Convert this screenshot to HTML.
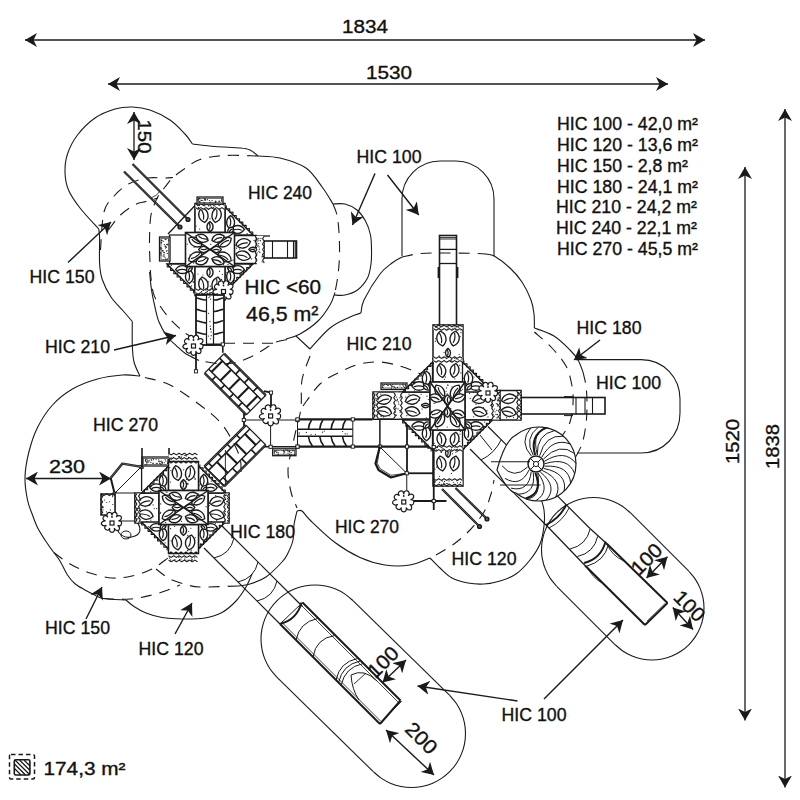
<!DOCTYPE html>
<html><head><meta charset="utf-8"><style>
html,body{margin:0;padding:0;background:#fff;width:800px;height:800px;overflow:hidden}
svg{display:block}
text{font-family:"Liberation Sans",sans-serif;fill:#111;stroke:#111;stroke-width:0.35px}
</style></head><body>
<svg width="800" height="800" viewBox="0 0 800 800">
<defs>
<marker id="ah" viewBox="0 0 12 14" refX="12" refY="7" markerWidth="12" markerHeight="14" markerUnits="userSpaceOnUse" orient="auto-start-reverse">
<path d="M0,0 L12,7 L0,14 L3.5,7 Z" fill="#1a1a1a"/>
</marker>
<marker id="ah2" viewBox="0 0 12 12" refX="12" refY="6" markerWidth="12" markerHeight="12" markerUnits="userSpaceOnUse" orient="auto-start-reverse">
<path d="M0,0 L12,6 L0,12 L3,6 Z" fill="#1a1a1a"/>
</marker>
</defs>

<g fill="none" stroke="#1a1a1a" stroke-width="1.1" stroke-linejoin="round">
<path d="M140,376 C139,373.67 135.28,367.17 134,362 C132.72,356.83 132.58,351.75 132.3,345 C132.02,338.25 132.3,325.42 132.3,321.5"/>
<path d="M132.3,321.5 C130.79,319.75 126.8,315.08 123.25,311 C119.7,306.92 114.5,302.25 111,297 C107.5,291.75 104.15,285.04 102.25,279.5 C100.35,273.96 100.04,270.75 99.6,263.75 C99.16,256.75 99.74,243.29 99.6,237.5 C99.46,231.71 98.89,230.42 98.75,229"/>
<path d="M98.75,229 C95.62,225.5 85.04,214.5 80,208 C74.96,201.5 71,195.92 68.5,190 C66,184.08 65.17,178.5 65,172.5 C64.83,166.5 65.42,160.25 67.5,154 C69.58,147.75 72.92,141 77.5,135 C82.08,129 88.75,122.33 95,118 C101.25,113.67 108.75,110.83 115,109 C121.25,107.17 126.67,106.83 132.5,107 C138.33,107.17 143.75,107.83 150,110 C156.25,112.17 164.17,116 170,120 C175.83,124 181.25,130 185,134 C188.75,138 191.25,142.33 192.5,144"/>
<path d="M192.5,144 C196.25,144.42 207.08,145.83 215,146.5 C222.92,147.17 234.17,147.42 240,148 C245.83,148.58 247,148.67 250,150 C253,151.33 256.67,155 258,156"/>
<path d="M258,156 C261.67,156.33 272,156 280,158 C288,160 298.92,163.08 306,168 C313.08,172.92 318,181.5 322.5,187.5 C327,193.5 331.25,201.25 333,204"/>
<path d="M333,204 C335,204 341,203 345,204 C349,205 353.58,207.17 357,210 C360.42,212.83 363.25,216.83 365.5,221 C367.75,225.17 369.5,230.17 370.5,235 C371.5,239.83 371.42,245.17 371.5,250 C371.58,254.83 371.67,259.33 371,264 C370.33,268.67 369.75,273.67 367.5,278 C365.25,282.33 361.25,287.17 357.5,290 C353.75,292.83 348.92,294.17 345,295 C341.08,295.83 335.83,295 334,295"/>
<path d="M335,292.5 C334.17,294.58 332.83,300.25 330,305 C327.17,309.75 323,316.17 318,321 C313,325.83 305.33,331 300,334 C294.67,337 288.33,338.17 286,339"/>
<path d="M296,336 L310,349"/>
<path d="M310,349 C313.33,345.5 323.33,333.33 330,328 C336.67,322.67 344.83,319.5 350,317 C355.17,314.5 359.17,313.67 361,313"/>
<path d="M361,313 C361.5,310.83 360.83,306.5 364,300 C367.17,293.5 375.33,280.17 380,274 C384.67,267.83 388.33,265.83 392,263 C395.67,260.17 400.33,258 402,257"/>
<path d="M402,256 L402,199 C402,178 419,161 440,161 L456,161 C477,161 494,178 494,199 L494,256"/>
<path d="M149.6,272 C149.92,275 150.68,284.5 151.5,290 C152.32,295.5 153.25,299.67 154.5,305 C155.75,310.33 156.83,316.67 159,322 C161.17,327.33 164.67,333.12 167.5,337 C170.33,340.88 173.02,342.55 176,345.3 C178.98,348.05 181.57,350.97 185.4,353.5 C189.23,356.03 196.73,359.33 199,360.5"/>
<path d="M140,376 C137.08,375.83 129.58,374.5 122.5,375 C115.42,375.5 105.83,376.67 97.5,379 C89.17,381.33 80,384.67 72.5,389 C65,393.33 58.33,398.58 52.5,405 C46.67,411.42 41.46,419.58 37.5,427.5 C33.54,435.42 30.83,444.17 28.75,452.5 C26.67,460.83 25.21,469.58 25,477.5 C24.79,485.42 26.25,493.75 27.5,500 C28.75,506.25 30.83,510.42 32.5,515 C34.17,519.58 35.42,523.33 37.5,527.5 C39.58,531.67 42.29,535.83 45,540 C47.71,544.17 52.29,550.42 53.75,552.5"/>
<path d="M53.75,552.5 C54.79,553.92 57.71,557.25 60,561 C62.29,564.75 65,571.21 67.5,575 C70,578.79 72.08,581.25 75,583.75 C77.92,586.25 81.88,588.21 85,590 C88.12,591.79 90.75,593.08 93.75,594.5 C96.75,595.92 97.62,597.58 103,598.5 C108.38,599.42 122.17,599.75 126,600"/>
<path d="M126,600 C127.33,601.08 130.67,604.33 134,606.5 C137.33,608.67 141.33,611.17 146,613 C150.67,614.83 156,616.5 162,617.5 C168,618.5 174.83,618.92 182,619 C189.17,619.08 198.33,619.08 205,618 C211.67,616.92 216.83,615.33 222,612.5 C227.17,609.67 232,605.25 236,601 C240,596.75 243.33,591.5 246,587 C248.67,582.5 251,576.17 252,574"/>
<path d="M297,511 C296.5,513.33 294.67,520.17 294,525 C293.33,529.83 294,535.33 293,540 C292,544.67 289.83,549.33 288,553 C286.17,556.67 285.67,558 282,562 C278.33,566 271.33,573.33 266,577 C260.67,580.67 254.67,582.5 250,584 C245.33,585.5 240,585.67 238,586"/>
<path d="M297,511 C297.83,511 299.83,509.5 302,511 C304.17,512.5 304.5,514.75 310,520 C315.5,525.25 326.67,536.25 335,542.5 C343.33,548.75 351.67,553.75 360,557.5 C368.33,561.25 376.67,563.75 385,565 C393.33,566.25 402.5,566.17 410,565 C417.5,563.83 426.67,559.17 430,558"/>
<path d="M430,558 C431.67,559.67 436.33,564.67 440,568 C443.67,571.33 447.33,575.5 452,578 C456.67,580.5 462.67,582 468,583 C473.33,584 478.67,584.33 484,584 C489.33,583.67 494.67,582.67 500,581 C505.33,579.33 511,577.5 516,574 C521,570.5 526,565 530,560 C534,555 537.67,549.67 540,544 C542.33,538.33 543.33,531.67 544,526 C544.67,520.33 544.67,515 544,510 C543.33,505 541.33,499.67 540,496 C538.67,492.33 536.67,489.33 536,488"/>
<path d="M486,254 C487.5,254.42 491,254.17 495,256.5 C499,258.83 505.5,263.75 510,268 C514.5,272.25 518.5,276.67 522,282 C525.5,287.33 529,294.67 531,300 C533,305.33 533.43,309.33 534,314 C534.57,318.67 534.33,325.67 534.4,328"/>
<path d="M534.4,328 C537.67,329.33 548.07,332.33 554,336 C559.93,339.67 566,346 570,350 C574,354 575.83,356.33 578,360 C580.17,363.67 582.17,370 583,372"/>
<path d="M576,359.6 L641,359.6 C664,359.6 680,378 680,399 L680,413 C680,435 664,453 641,453 L577,453"/>
<path d="M556.73,586.27 C555.65,584.96 552.14,581.2 550.26,578.39 C548.38,575.58 546.75,572.52 545.46,569.4 C544.16,566.28 543.16,562.96 542.5,559.64 C541.84,556.33 541.5,552.88 541.5,549.5 C541.5,546.12 541.84,542.67 542.5,539.36 C543.16,536.04 544.16,532.72 545.46,529.6 C546.75,526.48 548.38,523.42 550.26,520.61 C552.14,517.8 554.34,515.12 556.73,512.73 C559.12,510.34 561.8,508.14 564.61,506.26 C567.42,504.38 570.48,502.75 573.6,501.46 C576.72,500.16 580.04,499.16 583.36,498.5 C586.67,497.84 590.12,497.5 593.5,497.5 C596.88,497.5 600.33,497.84 603.64,498.5 C606.96,499.16 610.28,500.16 613.4,501.46 C616.52,502.75 619.58,504.38 622.39,506.26 C625.2,508.14 628.96,511.65 630.27,512.73"/>
<path d="M630.3,512.7 L688.8,571.2"/>
<path d="M688.77,571.23 C689.85,572.54 693.36,576.3 695.24,579.11 C697.12,581.92 698.75,584.98 700.04,588.1 C701.34,591.22 702.34,594.54 703,597.86 C703.66,601.17 704,604.62 704,608 C704,611.38 703.66,614.83 703,618.14 C702.34,621.46 701.34,624.78 700.04,627.9 C698.75,631.02 697.12,634.08 695.24,636.89 C693.36,639.7 691.16,642.38 688.77,644.77 C686.38,647.16 683.7,649.36 680.89,651.24 C678.08,653.12 675.02,654.75 671.9,656.04 C668.78,657.34 665.46,658.34 662.14,659 C658.83,659.66 655.38,660 652,660 C648.62,660 645.17,659.66 641.86,659 C638.54,658.34 635.22,657.34 632.1,656.04 C628.98,654.75 625.92,653.12 623.11,651.24 C620.3,649.36 616.54,645.85 615.23,644.77"/>
<path d="M615.2,644.8 L556.7,586.3"/>
<path d="M276.82,677.18 C275.7,675.82 272.05,671.92 270.1,669 C268.15,666.08 266.45,662.91 265.11,659.66 C263.77,656.42 262.72,652.98 262.04,649.53 C261.35,646.09 261,642.51 261,639 C261,635.49 261.35,631.91 262.04,628.47 C262.72,625.02 263.77,621.58 265.11,618.34 C266.45,615.09 268.15,611.92 270.1,609 C272.05,606.08 274.33,603.3 276.82,600.82 C279.3,598.33 282.08,596.05 285,594.1 C287.92,592.15 291.09,590.45 294.34,589.11 C297.58,587.77 301.02,586.72 304.47,586.04 C307.91,585.35 311.49,585 315,585 C318.51,585 322.09,585.35 325.53,586.04 C328.98,586.72 332.42,587.77 335.66,589.11 C338.91,590.45 342.08,592.15 345,594.1 C347.92,596.05 351.82,599.7 353.18,600.82"/>
<path d="M353.2,600.8 L449.7,695.3"/>
<path d="M449.68,695.32 C450.8,696.68 454.45,700.58 456.4,703.5 C458.35,706.42 460.05,709.59 461.39,712.84 C462.73,716.08 463.78,719.52 464.46,722.97 C465.15,726.41 465.5,729.99 465.5,733.5 C465.5,737.01 465.15,740.59 464.46,744.03 C463.78,747.48 462.73,750.92 461.39,754.16 C460.05,757.41 458.35,760.58 456.4,763.5 C454.45,766.42 452.17,769.2 449.68,771.68 C447.2,774.17 444.42,776.45 441.5,778.4 C438.58,780.35 435.41,782.05 432.16,783.39 C428.92,784.73 425.48,785.78 422.03,786.46 C418.59,787.15 415.01,787.5 411.5,787.5 C407.99,787.5 404.41,787.15 400.97,786.46 C397.52,785.78 394.08,784.73 390.84,783.39 C387.59,782.05 384.42,780.35 381.5,778.4 C378.58,776.45 374.68,772.8 373.32,771.68"/>
<path d="M373.3,771.7 L276.8,677.2"/>
</g>
<g fill="none" stroke="#1a1a1a" stroke-width="1.1" stroke-dasharray="11,8">
<path d="M333,204 C333.67,205.83 336,210.25 337,215 C338,219.75 338.58,225.83 339,232.5 C339.42,239.17 339.67,247.92 339.5,255 C339.33,262.08 338.75,268.75 338,275 C337.25,281.25 335.5,289.58 335,292.5"/>
<path d="M287,339.5 C285,340 279,340.75 275,342.5 C271,344.25 267.25,347.5 263,350 C258.75,352.5 254.25,355.38 249.5,357.5 C244.75,359.62 239.75,361.75 234.5,362.75 C229.25,363.75 223.92,363.88 218,363.5 C212.08,363.12 202.17,361 199,360.5"/>
<path d="M402,257 C405,256.42 413.67,254.17 420,253.5 C426.33,252.83 431.67,253.03 440,253 C448.33,252.97 462.33,253.13 470,253.3 C477.67,253.47 483.33,253.88 486,254"/>
<path d="M258,156 C252.5,155.92 234.67,154.92 225,155.5 C215.33,156.08 206.67,157.33 200,159.5 C193.33,161.67 189.5,165.5 185,168.5 C180.5,171.5 176.33,174.42 173,177.5 C169.67,180.58 167.58,183.67 165,187 C162.42,190.33 159.83,192.83 157.5,197.5 C155.17,202.17 152.33,207.92 151,215 C149.67,222.08 149.67,232.17 149.5,240 C149.33,247.83 149.75,255.67 150,262 C150.25,268.33 150.38,272.6 151,278 C151.62,283.4 152.15,289.61 153.75,294.4 C155.35,299.19 158.07,302.85 160.6,306.75 C163.12,310.65 165.92,314.36 168.9,317.8 C171.88,321.24 174.98,324.37 178.5,327.4 C182.02,330.43 184.75,333.57 190,336 C195.25,338.43 204.33,340.78 210,342 C215.67,343.22 221.67,343.08 224,343.3"/>
<path d="M224,343.3 L276.5,343.3"/>
<path d="M100.5,250 C101.08,243.67 101.67,221.08 104,212 C106.33,202.92 110.25,200.25 114.5,195.5 C118.75,190.75 124,186.42 129.5,183.5 C135,180.58 141.75,178.92 147.5,178 C153.25,177.08 159.75,178.08 164,178 C168.25,177.92 171.5,177.58 173,177.5"/>
<path d="M108.5,230 C110.5,227.5 116,219.25 120.5,215 C125,210.75 131.25,206.75 135.5,204.5 C139.75,202.25 142.25,202.58 146,201.5 C149.75,200.42 156,198.58 158,198"/>
<path d="M145,377.5 C149.17,378.75 160.83,380.42 170,385 C179.17,389.58 191.67,398.83 200,405 C208.33,411.17 214.67,416.17 220,422 C225.33,427.83 228.67,434 232,440 C235.33,446 238.5,452.67 240,458 C241.5,463.33 240.83,469.67 241,472"/>
<path d="M53.75,552.5 C56.46,554.42 63.96,560.58 70,564 C76.04,567.42 83,570.67 90,573 C97,575.33 105,577.5 112,578 C119,578.5 125.33,577.5 132,576 C138.67,574.5 146,572 152,569 C158,566 165.33,559.83 168,558"/>
<path d="M156,569 C158.33,570.67 164.67,576.33 170,579 C175.33,581.67 183,583.67 188,585 C193,586.33 191.67,586.83 200,587 C208.33,587.17 231.67,586.17 238,586"/>
<path d="M103,598.5 C107.5,598.58 121.83,599.58 130,599 C138.17,598.42 145.67,596.5 152,595 C158.33,593.5 163.33,591.67 168,590 C172.67,588.33 178,585.83 180,585"/>
<path d="M436,555 C439,553.17 448.33,548.17 454,544 C459.67,539.83 465,535.33 470,530 C475,524.67 480.5,518 484,512 C487.5,506 489.33,499.33 491,494 C492.67,488.67 493.5,482.33 494,480"/>
<path d="M310,356 C308.67,360 303.5,371.33 302,380 C300.5,388.67 302,399.67 301,408 C300,416.33 297.5,423.33 296,430 C294.5,436.67 293.33,441.33 292,448 C290.67,454.67 288.17,462.67 288,470 C287.83,477.33 289.5,485.67 291,492 C292.5,498.33 296,505.33 297,508"/>
<path d="M303,406 C305.83,402.33 313.83,389.67 320,384 C326.17,378.33 333.33,375.33 340,372 C346.67,368.67 353.33,365.67 360,364 C366.67,362.33 373.33,361.67 380,362 C386.67,362.33 394,364.33 400,366 C406,367.67 412,370.33 416,372 C420,373.67 422.67,375.33 424,376"/>
<path d="M583,372 C583.5,374.33 585.33,380.67 586,386 C586.67,391.33 587,397.67 587,404 C587,410.33 586.83,417.33 586,424 C585.17,430.67 584,438 582,444 C580,450 575.33,457.33 574,460"/>
<path d="M534.4,332 C537.33,334.67 546.73,342.33 552,348 C557.27,353.67 562.67,359.67 566,366 C569.33,372.33 570.83,379.67 572,386 C573.17,392.33 573.33,398 573,404 C572.67,410 571.83,416.67 570,422 C568.17,427.33 564.67,432.33 562,436 C559.33,439.67 555.33,442.67 554,444"/>
</g>
<g id="equip" stroke-linecap="butt">
<line x1="132.5" y1="164" x2="188" y2="219.5" stroke="#1a1a1a" stroke-width="2.3"/><line x1="132.5" y1="164" x2="188" y2="219.5" stroke="#777" stroke-width="0.6"/><circle cx="188" cy="219.5" r="1.9" fill="#555" stroke="#1a1a1a" stroke-width="1.4"/>
<line x1="124" y1="171.5" x2="180" y2="227" stroke="#1a1a1a" stroke-width="2.3"/><line x1="124" y1="171.5" x2="180" y2="227" stroke="#777" stroke-width="0.6"/><circle cx="180" cy="227" r="1.9" fill="#555" stroke="#1a1a1a" stroke-width="1.4"/>
<path d="M151,198 Q157,196 160,191" fill="none" stroke="#1a1a1a" stroke-width="0.8"/>
<line x1="168" y1="234" x2="195" y2="205.5" stroke="#1a1a1a" stroke-width="1.3"/>
<line x1="195" y1="205.5" x2="195" y2="234" stroke="#1a1a1a" stroke-width="1"/>
<rect x="169.5" y="235" width="16.5" height="28.5" fill="#fff" stroke="#1a1a1a" stroke-width="1.2"/>
<rect x="159.5" y="237" width="10.5" height="24" fill="#fff" stroke="#1a1a1a" stroke-width="1.3"/><circle cx="163.25" cy="241.32" r="0.6" fill="#1a1a1a"/><circle cx="166.03" cy="239.59" r="0.6" fill="#1a1a1a"/><circle cx="165.05" cy="246.05" r="0.6" fill="#1a1a1a"/><circle cx="160.99" cy="249.16" r="0.6" fill="#1a1a1a"/><circle cx="160.82" cy="247.54" r="0.6" fill="#1a1a1a"/><circle cx="161.09" cy="240" r="0.6" fill="#1a1a1a"/><circle cx="164.11" cy="256.19" r="0.6" fill="#1a1a1a"/><circle cx="161.55" cy="242.91" r="0.6" fill="#1a1a1a"/><circle cx="165.83" cy="258.85" r="0.6" fill="#1a1a1a"/><circle cx="165.41" cy="246.73" r="0.6" fill="#1a1a1a"/><circle cx="168.8" cy="239.02" r="0.6" fill="#1a1a1a"/><circle cx="167.8" cy="244.37" r="0.6" fill="#1a1a1a"/><circle cx="161.73" cy="240.59" r="0.6" fill="#1a1a1a"/><circle cx="163.12" cy="255.95" r="0.6" fill="#1a1a1a"/><circle cx="162.04" cy="250.8" r="0.6" fill="#1a1a1a"/><circle cx="165.93" cy="246.19" r="0.6" fill="#1a1a1a"/><circle cx="165.16" cy="239.38" r="0.6" fill="#1a1a1a"/><circle cx="161.01" cy="242.53" r="0.6" fill="#1a1a1a"/><circle cx="166.28" cy="247.41" r="0.6" fill="#1a1a1a"/><circle cx="163.17" cy="250.88" r="0.6" fill="#1a1a1a"/><circle cx="164.35" cy="244.59" r="0.6" fill="#1a1a1a"/><circle cx="167.25" cy="253.38" r="0.6" fill="#1a1a1a"/><circle cx="162.57" cy="250.64" r="0.6" fill="#1a1a1a"/><circle cx="164.96" cy="257.25" r="0.6" fill="#1a1a1a"/><circle cx="166.7" cy="244.33" r="0.6" fill="#1a1a1a"/><circle cx="168.83" cy="240.6" r="0.6" fill="#1a1a1a"/><circle cx="164.05" cy="254.66" r="0.6" fill="#1a1a1a"/><circle cx="161.79" cy="248.76" r="0.6" fill="#1a1a1a"/><circle cx="160.83" cy="252.7" r="0.6" fill="#1a1a1a"/><circle cx="167" cy="250.61" r="0.6" fill="#1a1a1a"/><circle cx="167.94" cy="244.9" r="0.6" fill="#1a1a1a"/><circle cx="166.41" cy="251.08" r="0.6" fill="#1a1a1a"/><circle cx="165.43" cy="248.04" r="0.6" fill="#1a1a1a"/><circle cx="167.64" cy="258.78" r="0.6" fill="#1a1a1a"/><circle cx="164.53" cy="252.61" r="0.6" fill="#1a1a1a"/><circle cx="161.02" cy="253.43" r="0.6" fill="#1a1a1a"/><circle cx="166" cy="259.85" r="0.6" fill="#1a1a1a"/><circle cx="167.49" cy="244.26" r="0.6" fill="#1a1a1a"/><circle cx="163.78" cy="252.71" r="0.6" fill="#1a1a1a"/><circle cx="160.69" cy="248.16" r="0.6" fill="#1a1a1a"/><circle cx="161.93" cy="240.58" r="0.6" fill="#1a1a1a"/><circle cx="161" cy="254.9" r="0.6" fill="#1a1a1a"/><rect x="161" y="238.5" width="7.5" height="21" fill="none" stroke="#1a1a1a" stroke-width="0.6"/>
<line x1="168.5" y1="265" x2="168.5" y2="267" stroke="#1a1a1a" stroke-width="1"/>
<rect x="264" y="241" width="32.5" height="17" fill="none" stroke="#1a1a1a" stroke-width="1.6"/><line x1="272.5" y1="241" x2="272.5" y2="258" stroke="#1a1a1a" stroke-width="1.1"/><line x1="287.5" y1="241" x2="287.5" y2="258" stroke="#1a1a1a" stroke-width="1.1"/><line x1="293.5" y1="241" x2="293.5" y2="258" stroke="#1a1a1a" stroke-width="1.1"/><line x1="295.2" y1="241" x2="295.2" y2="258" stroke="#1a1a1a" stroke-width="1.1"/>
<line x1="240" y1="236" x2="270" y2="236" stroke="#1a1a1a" stroke-width="1.3"/>
<rect x="234" y="235.5" width="22" height="28" fill="#fff" stroke="#1a1a1a" stroke-width="1.5"/><circle cx="237.59" cy="242.94" r="0.6" fill="#1a1a1a"/><circle cx="242.82" cy="259.16" r="0.6" fill="#1a1a1a"/><circle cx="236.61" cy="248.18" r="0.6" fill="#1a1a1a"/><circle cx="245.99" cy="259.47" r="0.6" fill="#1a1a1a"/><circle cx="251.39" cy="258.96" r="0.6" fill="#1a1a1a"/><circle cx="240.57" cy="247.3" r="0.6" fill="#1a1a1a"/><circle cx="242.18" cy="259.49" r="0.6" fill="#1a1a1a"/><circle cx="254.15" cy="240.42" r="0.6" fill="#1a1a1a"/><circle cx="238.52" cy="242.53" r="0.6" fill="#1a1a1a"/><circle cx="239.67" cy="249.11" r="0.6" fill="#1a1a1a"/><circle cx="246.78" cy="243.33" r="0.6" fill="#1a1a1a"/><g transform="translate(243.24,243.34) rotate(-15)"><path d="M-7.5,0 C-3.75,-6.12 3.75,-6.12 7.5,0 C3.75,6.12 -3.75,6.12 -7.5,0Z" fill="#fff" stroke="#1a1a1a" stroke-width="1.35"/><path d="M-5.7,1 Q0,-1.2 4.5,0.8" fill="none" stroke="#1a1a1a" stroke-width="1.2"/></g><g transform="translate(243.24,255.66) rotate(15)"><path d="M-7.5,0 C-3.75,-6.12 3.75,-6.12 7.5,0 C3.75,6.12 -3.75,6.12 -7.5,0Z" fill="#fff" stroke="#1a1a1a" stroke-width="1.35"/><path d="M-5.7,1 Q0,-1.2 4.5,0.8" fill="none" stroke="#1a1a1a" stroke-width="1.2"/></g><g transform="translate(252.7,249.5) rotate(0)"><path d="M-4,0 C-2,-3.06 2,-3.06 4,0 C2,3.06 -2,3.06 -4,0Z" fill="#fff" stroke="#1a1a1a" stroke-width="1.35"/><path d="M-3.04,1 Q0,-1.2 2.4,0.8" fill="none" stroke="#1a1a1a" stroke-width="1.2"/></g>
<rect x="255.5" y="236" width="8.5" height="27" fill="#fff" stroke="none"/><circle cx="256.53" cy="247.47" r="0.6" fill="#1a1a1a"/><circle cx="258.9" cy="251.16" r="0.6" fill="#1a1a1a"/><circle cx="262.7" cy="254.26" r="0.6" fill="#1a1a1a"/><circle cx="259.85" cy="252.44" r="0.6" fill="#1a1a1a"/><circle cx="260.9" cy="238.35" r="0.6" fill="#1a1a1a"/><circle cx="262.35" cy="256.5" r="0.6" fill="#1a1a1a"/><circle cx="262.18" cy="256.95" r="0.6" fill="#1a1a1a"/><circle cx="259.05" cy="246.97" r="0.6" fill="#1a1a1a"/><circle cx="257.17" cy="252.86" r="0.6" fill="#1a1a1a"/><circle cx="256.9" cy="238.68" r="0.6" fill="#1a1a1a"/><circle cx="257.86" cy="241.06" r="0.6" fill="#1a1a1a"/><circle cx="258.71" cy="238.31" r="0.6" fill="#1a1a1a"/><circle cx="256.5" cy="240.78" r="0.6" fill="#1a1a1a"/><circle cx="257.16" cy="246.09" r="0.6" fill="#1a1a1a"/><circle cx="256.67" cy="258.86" r="0.6" fill="#1a1a1a"/><circle cx="260.49" cy="240.71" r="0.6" fill="#1a1a1a"/><circle cx="258.14" cy="245.68" r="0.6" fill="#1a1a1a"/><circle cx="258.87" cy="240.07" r="0.6" fill="#1a1a1a"/><circle cx="262.02" cy="261.83" r="0.6" fill="#1a1a1a"/><circle cx="259.53" cy="249.1" r="0.6" fill="#1a1a1a"/><circle cx="257.06" cy="239.55" r="0.6" fill="#1a1a1a"/><circle cx="258.73" cy="243.62" r="0.6" fill="#1a1a1a"/><path d="M255.22,263 L256.9,260.3 L255.22,257.6 L256.9,254.9 L255.22,252.2 L256.9,249.5 L255.22,246.8 L256.9,244.1 L255.22,241.4 L256.9,238.7 L255.22,236" fill="none" stroke="#1a1a1a" stroke-width="1.1" stroke-linejoin="round"/><path d="M264.28,236 L262.6,238.7 L264.28,241.4 L262.6,244.1 L264.28,246.8 L262.6,249.5 L264.28,252.2 L262.6,254.9 L264.28,257.6 L262.6,260.3 L264.28,263" fill="none" stroke="#1a1a1a" stroke-width="1.1" stroke-linejoin="round"/>
<path d="M253,235 L225,207 L225,235Z" fill="#fff" stroke="#1a1a1a" stroke-width="1.3"/><circle cx="226.6" cy="232.73" r="0.6" fill="#1a1a1a"/><circle cx="239.73" cy="233.44" r="0.6" fill="#1a1a1a"/><circle cx="232.79" cy="217.53" r="0.6" fill="#1a1a1a"/><circle cx="230.34" cy="228.07" r="0.6" fill="#1a1a1a"/><circle cx="239.85" cy="228.26" r="0.6" fill="#1a1a1a"/><circle cx="247.1" cy="233.61" r="0.6" fill="#1a1a1a"/><circle cx="231.9" cy="221.46" r="0.6" fill="#1a1a1a"/><g transform="translate(230.6,222.4) rotate(90)"><path d="M-6.76,0 C-3.38,-5.25 3.38,-5.25 6.76,0 C3.38,5.25 -3.38,5.25 -6.76,0Z" fill="#fff" stroke="#1a1a1a" stroke-width="1.35"/><path d="M-5.14,1 Q0,-1.2 4.06,0.8" fill="none" stroke="#1a1a1a" stroke-width="1.2"/></g><g transform="translate(237.6,229.4) rotate(0)"><path d="M-6.76,0 C-3.38,-5.25 3.38,-5.25 6.76,0 C3.38,5.25 -3.38,5.25 -6.76,0Z" fill="#fff" stroke="#1a1a1a" stroke-width="1.35"/><path d="M-5.14,1 Q0,-1.2 4.06,0.8" fill="none" stroke="#1a1a1a" stroke-width="1.2"/></g><g transform="translate(230.6,230.24) rotate(-45)"><path d="M-3.86,0 C-1.93,-3.28 1.93,-3.28 3.86,0 C1.93,3.28 -1.93,3.28 -3.86,0Z" fill="#fff" stroke="#1a1a1a" stroke-width="1.35"/><path d="M-2.94,1 Q0,-1.2 2.32,0.8" fill="none" stroke="#1a1a1a" stroke-width="1.2"/></g><path d="M252.72,235.28 L252.77,231.94 L249.42,231.99 L249.47,228.64 L246.13,228.69 L246.18,225.35 L242.83,225.4 L242.88,222.06 L239.54,222.11 L239.59,218.76 L236.25,218.81 L236.3,215.47 L232.95,215.52 L233,212.17 L229.66,212.22 L229.71,208.88 L226.36,208.93 L226.41,205.59" fill="none" stroke="#1a1a1a" stroke-width="1.1" stroke-linejoin="round"/><path d="M253,264 L225,292 L225,264Z" fill="#fff" stroke="#1a1a1a" stroke-width="1.3"/><circle cx="235.24" cy="265.75" r="0.6" fill="#1a1a1a"/><circle cx="226.73" cy="272.26" r="0.6" fill="#1a1a1a"/><circle cx="232.74" cy="283.01" r="0.6" fill="#1a1a1a"/><circle cx="231.73" cy="270.9" r="0.6" fill="#1a1a1a"/><circle cx="231.11" cy="270.31" r="0.6" fill="#1a1a1a"/><circle cx="228.2" cy="282.18" r="0.6" fill="#1a1a1a"/><circle cx="230.64" cy="285.52" r="0.6" fill="#1a1a1a"/><g transform="translate(230.6,276.6) rotate(90)"><path d="M-6.76,0 C-3.38,-5.25 3.38,-5.25 6.76,0 C3.38,5.25 -3.38,5.25 -6.76,0Z" fill="#fff" stroke="#1a1a1a" stroke-width="1.35"/><path d="M-5.14,1 Q0,-1.2 4.06,0.8" fill="none" stroke="#1a1a1a" stroke-width="1.2"/></g><g transform="translate(237.6,269.6) rotate(0)"><path d="M-6.76,0 C-3.38,-5.25 3.38,-5.25 6.76,0 C3.38,5.25 -3.38,5.25 -6.76,0Z" fill="#fff" stroke="#1a1a1a" stroke-width="1.35"/><path d="M-5.14,1 Q0,-1.2 4.06,0.8" fill="none" stroke="#1a1a1a" stroke-width="1.2"/></g><g transform="translate(230.6,268.76) rotate(45)"><path d="M-3.86,0 C-1.93,-3.28 1.93,-3.28 3.86,0 C1.93,3.28 -1.93,3.28 -3.86,0Z" fill="#fff" stroke="#1a1a1a" stroke-width="1.35"/><path d="M-2.94,1 Q0,-1.2 2.32,0.8" fill="none" stroke="#1a1a1a" stroke-width="1.2"/></g><path d="M253.28,264.28 L249.94,264.23 L249.99,267.58 L246.64,267.53 L246.69,270.87 L243.35,270.82 L243.4,274.17 L240.06,274.12 L240.11,277.46 L236.76,277.41 L236.81,280.75 L233.47,280.7 L233.52,284.05 L230.17,284 L230.22,287.34 L226.88,287.29 L226.93,290.64 L223.59,290.59" fill="none" stroke="#1a1a1a" stroke-width="1.1" stroke-linejoin="round"/><path d="M167,264 L195,292 L195,264Z" fill="#fff" stroke="#1a1a1a" stroke-width="1.3"/><circle cx="193.26" cy="275.29" r="0.6" fill="#1a1a1a"/><circle cx="186.84" cy="269.42" r="0.6" fill="#1a1a1a"/><circle cx="191.53" cy="285.97" r="0.6" fill="#1a1a1a"/><circle cx="193.49" cy="282.09" r="0.6" fill="#1a1a1a"/><circle cx="171.41" cy="265.37" r="0.6" fill="#1a1a1a"/><circle cx="193.24" cy="281.89" r="0.6" fill="#1a1a1a"/><circle cx="189.48" cy="270.49" r="0.6" fill="#1a1a1a"/><g transform="translate(189.4,276.6) rotate(90)"><path d="M-6.76,0 C-3.38,-5.25 3.38,-5.25 6.76,0 C3.38,5.25 -3.38,5.25 -6.76,0Z" fill="#fff" stroke="#1a1a1a" stroke-width="1.35"/><path d="M-5.14,1 Q0,-1.2 4.06,0.8" fill="none" stroke="#1a1a1a" stroke-width="1.2"/></g><g transform="translate(182.4,269.6) rotate(0)"><path d="M-6.76,0 C-3.38,-5.25 3.38,-5.25 6.76,0 C3.38,5.25 -3.38,5.25 -6.76,0Z" fill="#fff" stroke="#1a1a1a" stroke-width="1.35"/><path d="M-5.14,1 Q0,-1.2 4.06,0.8" fill="none" stroke="#1a1a1a" stroke-width="1.2"/></g><g transform="translate(189.4,268.76) rotate(-45)"><path d="M-3.86,0 C-1.93,-3.28 1.93,-3.28 3.86,0 C1.93,3.28 -1.93,3.28 -3.86,0Z" fill="#fff" stroke="#1a1a1a" stroke-width="1.35"/><path d="M-2.94,1 Q0,-1.2 2.32,0.8" fill="none" stroke="#1a1a1a" stroke-width="1.2"/></g><path d="M167.28,263.72 L167.23,267.06 L170.58,267.01 L170.53,270.36 L173.87,270.31 L173.82,273.65 L177.17,273.6 L177.12,276.94 L180.46,276.89 L180.41,280.24 L183.75,280.19 L183.7,283.53 L187.05,283.48 L187,286.83 L190.34,286.78 L190.29,290.12 L193.64,290.07 L193.59,293.41" fill="none" stroke="#1a1a1a" stroke-width="1.1" stroke-linejoin="round"/><rect x="195" y="203.5" width="30" height="29" fill="#fff" stroke="#1a1a1a" stroke-width="1.5"/><circle cx="203.05" cy="212.41" r="0.6" fill="#1a1a1a"/><circle cx="202.74" cy="220.33" r="0.6" fill="#1a1a1a"/><circle cx="203.26" cy="215.81" r="0.6" fill="#1a1a1a"/><circle cx="199.67" cy="229.07" r="0.6" fill="#1a1a1a"/><circle cx="205.91" cy="216.87" r="0.6" fill="#1a1a1a"/><circle cx="212.33" cy="228.92" r="0.6" fill="#1a1a1a"/><circle cx="207.78" cy="229.28" r="0.6" fill="#1a1a1a"/><circle cx="210.05" cy="218.86" r="0.6" fill="#1a1a1a"/><circle cx="210.66" cy="205.01" r="0.6" fill="#1a1a1a"/><circle cx="208.32" cy="209.44" r="0.6" fill="#1a1a1a"/><circle cx="196.11" cy="226.08" r="0.6" fill="#1a1a1a"/><circle cx="200.83" cy="217.28" r="0.6" fill="#1a1a1a"/><circle cx="216.31" cy="219.52" r="0.6" fill="#1a1a1a"/><circle cx="205.13" cy="218.5" r="0.6" fill="#1a1a1a"/><circle cx="211.55" cy="225.68" r="0.6" fill="#1a1a1a"/><g transform="translate(203.4,215.1) rotate(80)"><path d="M-7.5,0 C-3.75,-6.12 3.75,-6.12 7.5,0 C3.75,6.12 -3.75,6.12 -7.5,0Z" fill="#fff" stroke="#1a1a1a" stroke-width="1.35"/><path d="M-5.7,1 Q0,-1.2 4.5,0.8" fill="none" stroke="#1a1a1a" stroke-width="1.2"/></g><g transform="translate(216.6,215.1) rotate(100)"><path d="M-7.5,0 C-3.75,-6.12 3.75,-6.12 7.5,0 C3.75,6.12 -3.75,6.12 -7.5,0Z" fill="#fff" stroke="#1a1a1a" stroke-width="1.35"/><path d="M-5.7,1 Q0,-1.2 4.5,0.8" fill="none" stroke="#1a1a1a" stroke-width="1.2"/></g><g transform="translate(210,226.7) rotate(90)"><path d="M-5,0 C-2.5,-4.08 2.5,-4.08 5,0 C2.5,4.08 -2.5,4.08 -5,0Z" fill="#fff" stroke="#1a1a1a" stroke-width="1.35"/><path d="M-3.8,1 Q0,-1.2 3,0.8" fill="none" stroke="#1a1a1a" stroke-width="1.2"/></g><path d="M195,203.18 L197.5,205.1 L200,203.18 L202.5,205.1 L205,203.18 L207.5,205.1 L210,203.18 L212.5,205.1 L215,203.18 L217.5,205.1 L220,203.18 L222.5,205.1 L225,203.18" fill="none" stroke="#1a1a1a" stroke-width="1.1" stroke-linejoin="round"/><rect x="195" y="266.5" width="30" height="29" fill="#fff" stroke="#1a1a1a" stroke-width="1.5"/><circle cx="198.97" cy="282.63" r="0.6" fill="#1a1a1a"/><circle cx="202.96" cy="274.98" r="0.6" fill="#1a1a1a"/><circle cx="217.62" cy="281.21" r="0.6" fill="#1a1a1a"/><circle cx="211.73" cy="288.02" r="0.6" fill="#1a1a1a"/><circle cx="221.55" cy="279.47" r="0.6" fill="#1a1a1a"/><circle cx="213.15" cy="281.15" r="0.6" fill="#1a1a1a"/><circle cx="210.34" cy="286.2" r="0.6" fill="#1a1a1a"/><circle cx="208.67" cy="281.9" r="0.6" fill="#1a1a1a"/><circle cx="209.39" cy="292.92" r="0.6" fill="#1a1a1a"/><circle cx="215.58" cy="291.17" r="0.6" fill="#1a1a1a"/><circle cx="222.38" cy="274.51" r="0.6" fill="#1a1a1a"/><circle cx="211.67" cy="292.97" r="0.6" fill="#1a1a1a"/><circle cx="219.52" cy="271.2" r="0.6" fill="#1a1a1a"/><circle cx="199.41" cy="279.44" r="0.6" fill="#1a1a1a"/><circle cx="198.03" cy="274" r="0.6" fill="#1a1a1a"/><g transform="translate(203.4,284.48) rotate(80)"><path d="M-7.5,0 C-3.75,-6.12 3.75,-6.12 7.5,0 C3.75,6.12 -3.75,6.12 -7.5,0Z" fill="#fff" stroke="#1a1a1a" stroke-width="1.35"/><path d="M-5.7,1 Q0,-1.2 4.5,0.8" fill="none" stroke="#1a1a1a" stroke-width="1.2"/></g><g transform="translate(216.6,284.48) rotate(100)"><path d="M-7.5,0 C-3.75,-6.12 3.75,-6.12 7.5,0 C3.75,6.12 -3.75,6.12 -7.5,0Z" fill="#fff" stroke="#1a1a1a" stroke-width="1.35"/><path d="M-5.7,1 Q0,-1.2 4.5,0.8" fill="none" stroke="#1a1a1a" stroke-width="1.2"/></g><g transform="translate(210,272.3) rotate(90)"><path d="M-5,0 C-2.5,-4.08 2.5,-4.08 5,0 C2.5,4.08 -2.5,4.08 -5,0Z" fill="#fff" stroke="#1a1a1a" stroke-width="1.35"/><path d="M-3.8,1 Q0,-1.2 3,0.8" fill="none" stroke="#1a1a1a" stroke-width="1.2"/></g><path d="M225,295.82 L222.5,293.9 L220,295.82 L217.5,293.9 L215,295.82 L212.5,293.9 L210,295.82 L207.5,293.9 L205,295.82 L202.5,293.9 L200,295.82 L197.5,293.9 L195,295.82" fill="none" stroke="#1a1a1a" stroke-width="1.1" stroke-linejoin="round"/><rect x="185.5" y="232.5" width="49" height="34" fill="#fff" stroke="#1a1a1a" stroke-width="1.6"/><circle cx="189.94" cy="254.92" r="0.6" fill="#1a1a1a"/><circle cx="223.34" cy="262.2" r="0.6" fill="#1a1a1a"/><circle cx="193.76" cy="256.42" r="0.6" fill="#1a1a1a"/><circle cx="217.53" cy="238.08" r="0.6" fill="#1a1a1a"/><circle cx="227.99" cy="264.46" r="0.6" fill="#1a1a1a"/><circle cx="196.82" cy="263.98" r="0.6" fill="#1a1a1a"/><circle cx="205.22" cy="249.09" r="0.6" fill="#1a1a1a"/><circle cx="233.02" cy="260.14" r="0.6" fill="#1a1a1a"/><circle cx="194.09" cy="247.31" r="0.6" fill="#1a1a1a"/><circle cx="210.73" cy="244.35" r="0.6" fill="#1a1a1a"/><circle cx="195.7" cy="243.69" r="0.6" fill="#1a1a1a"/><circle cx="220.44" cy="234.12" r="0.6" fill="#1a1a1a"/><circle cx="212.54" cy="247.59" r="0.6" fill="#1a1a1a"/><circle cx="187.35" cy="244.11" r="0.6" fill="#1a1a1a"/><circle cx="215.82" cy="249.89" r="0.6" fill="#1a1a1a"/><circle cx="189.52" cy="265.02" r="0.6" fill="#1a1a1a"/><circle cx="223.55" cy="264.59" r="0.6" fill="#1a1a1a"/><circle cx="191.42" cy="242" r="0.6" fill="#1a1a1a"/><circle cx="188.36" cy="258.43" r="0.6" fill="#1a1a1a"/><circle cx="199.21" cy="237.65" r="0.6" fill="#1a1a1a"/><circle cx="206.35" cy="262.67" r="0.6" fill="#1a1a1a"/><circle cx="224.99" cy="241.78" r="0.6" fill="#1a1a1a"/><circle cx="193.52" cy="262.91" r="0.6" fill="#1a1a1a"/><g transform="translate(195.3,242.02) rotate(210)"><path d="M-7.5,0 C-3.75,-5.78 3.75,-5.78 7.5,0 C3.75,5.78 -3.75,5.78 -7.5,0Z" fill="#fff" stroke="#1a1a1a" stroke-width="1.35"/><path d="M-5.7,1 Q0,-1.2 4.5,0.8" fill="none" stroke="#1a1a1a" stroke-width="1.2"/></g><g transform="translate(195.3,256.98) rotate(150)"><path d="M-7.5,0 C-3.75,-5.78 3.75,-5.78 7.5,0 C3.75,5.78 -3.75,5.78 -7.5,0Z" fill="#fff" stroke="#1a1a1a" stroke-width="1.35"/><path d="M-5.7,1 Q0,-1.2 4.5,0.8" fill="none" stroke="#1a1a1a" stroke-width="1.2"/></g><g transform="translate(203.63,249.5) rotate(180)"><path d="M-5,0 C-2.5,-4.08 2.5,-4.08 5,0 C2.5,4.08 -2.5,4.08 -5,0Z" fill="#fff" stroke="#1a1a1a" stroke-width="1.35"/><path d="M-3.8,1 Q0,-1.2 3,0.8" fill="none" stroke="#1a1a1a" stroke-width="1.2"/></g><g transform="translate(224.7,242.02) rotate(-30)"><path d="M-7.5,0 C-3.75,-5.78 3.75,-5.78 7.5,0 C3.75,5.78 -3.75,5.78 -7.5,0Z" fill="#fff" stroke="#1a1a1a" stroke-width="1.35"/><path d="M-5.7,1 Q0,-1.2 4.5,0.8" fill="none" stroke="#1a1a1a" stroke-width="1.2"/></g><g transform="translate(224.7,256.98) rotate(30)"><path d="M-7.5,0 C-3.75,-5.78 3.75,-5.78 7.5,0 C3.75,5.78 -3.75,5.78 -7.5,0Z" fill="#fff" stroke="#1a1a1a" stroke-width="1.35"/><path d="M-5.7,1 Q0,-1.2 4.5,0.8" fill="none" stroke="#1a1a1a" stroke-width="1.2"/></g><g transform="translate(216.37,249.5) rotate(0)"><path d="M-5,0 C-2.5,-4.08 2.5,-4.08 5,0 C2.5,4.08 -2.5,4.08 -5,0Z" fill="#fff" stroke="#1a1a1a" stroke-width="1.35"/><path d="M-3.8,1 Q0,-1.2 3,0.8" fill="none" stroke="#1a1a1a" stroke-width="1.2"/></g><g transform="translate(202,238.28) rotate(200)"><path d="M-6.5,0 C-3.25,-5.1 3.25,-5.1 6.5,0 C3.25,5.1 -3.25,5.1 -6.5,0Z" fill="#fff" stroke="#1a1a1a" stroke-width="1.35"/><path d="M-4.94,1 Q0,-1.2 3.9,0.8" fill="none" stroke="#1a1a1a" stroke-width="1.2"/></g><g transform="translate(218,238.28) rotate(-20)"><path d="M-6.5,0 C-3.25,-5.1 3.25,-5.1 6.5,0 C3.25,5.1 -3.25,5.1 -6.5,0Z" fill="#fff" stroke="#1a1a1a" stroke-width="1.35"/><path d="M-4.94,1 Q0,-1.2 3.9,0.8" fill="none" stroke="#1a1a1a" stroke-width="1.2"/></g><g transform="translate(202,260.72) rotate(160)"><path d="M-6.5,0 C-3.25,-5.1 3.25,-5.1 6.5,0 C3.25,5.1 -3.25,5.1 -6.5,0Z" fill="#fff" stroke="#1a1a1a" stroke-width="1.35"/><path d="M-4.94,1 Q0,-1.2 3.9,0.8" fill="none" stroke="#1a1a1a" stroke-width="1.2"/></g><g transform="translate(218,260.72) rotate(20)"><path d="M-6.5,0 C-3.25,-5.1 3.25,-5.1 6.5,0 C3.25,5.1 -3.25,5.1 -6.5,0Z" fill="#fff" stroke="#1a1a1a" stroke-width="1.35"/><path d="M-4.94,1 Q0,-1.2 3.9,0.8" fill="none" stroke="#1a1a1a" stroke-width="1.2"/></g><line x1="185.5" y1="232.5" x2="234.5" y2="266.5" stroke="#1a1a1a" stroke-width="1.5"/><line x1="185.5" y1="266.5" x2="234.5" y2="232.5" stroke="#1a1a1a" stroke-width="1.5"/>
<rect x="195.5" y="204" width="29" height="5" fill="#fff" stroke="none"/><circle cx="211.91" cy="207.1" r="0.6" fill="#1a1a1a"/><circle cx="198.92" cy="205.17" r="0.6" fill="#1a1a1a"/><circle cx="215.08" cy="206.28" r="0.6" fill="#1a1a1a"/><circle cx="198.46" cy="207.82" r="0.6" fill="#1a1a1a"/><circle cx="213.63" cy="207.4" r="0.6" fill="#1a1a1a"/><circle cx="198.76" cy="207.57" r="0.6" fill="#1a1a1a"/><circle cx="198.3" cy="207.59" r="0.6" fill="#1a1a1a"/><circle cx="208.75" cy="206.02" r="0.6" fill="#1a1a1a"/><circle cx="211.43" cy="207.78" r="0.6" fill="#1a1a1a"/><circle cx="203.73" cy="205.39" r="0.6" fill="#1a1a1a"/><circle cx="210.73" cy="205.72" r="0.6" fill="#1a1a1a"/><circle cx="199.46" cy="205.48" r="0.6" fill="#1a1a1a"/><circle cx="197.86" cy="205.61" r="0.6" fill="#1a1a1a"/><circle cx="204.92" cy="205.92" r="0.6" fill="#1a1a1a"/><path d="M195.5,203.72 L198.14,205.4 L200.77,203.72 L203.41,205.4 L206.05,203.72 L208.68,205.4 L211.32,203.72 L213.95,205.4 L216.59,203.72 L219.23,205.4 L221.86,203.72 L224.5,205.4" fill="none" stroke="#1a1a1a" stroke-width="1.1" stroke-linejoin="round"/><path d="M224.5,209.28 L221.86,207.6 L219.23,209.28 L216.59,207.6 L213.95,209.28 L211.32,207.6 L208.68,209.28 L206.05,207.6 L203.41,209.28 L200.77,207.6 L198.14,209.28 L195.5,207.6" fill="none" stroke="#1a1a1a" stroke-width="1.1" stroke-linejoin="round"/>
<rect x="195.5" y="289" width="29" height="5" fill="#fff" stroke="none"/><circle cx="217.01" cy="290.87" r="0.6" fill="#1a1a1a"/><circle cx="210" cy="290.53" r="0.6" fill="#1a1a1a"/><circle cx="205.87" cy="290.05" r="0.6" fill="#1a1a1a"/><circle cx="203.26" cy="290.05" r="0.6" fill="#1a1a1a"/><circle cx="216.29" cy="291.65" r="0.6" fill="#1a1a1a"/><circle cx="201.62" cy="291.42" r="0.6" fill="#1a1a1a"/><circle cx="221.74" cy="290.32" r="0.6" fill="#1a1a1a"/><circle cx="218.61" cy="291.3" r="0.6" fill="#1a1a1a"/><circle cx="209.87" cy="292.5" r="0.6" fill="#1a1a1a"/><circle cx="207.11" cy="291.52" r="0.6" fill="#1a1a1a"/><circle cx="215.07" cy="292.95" r="0.6" fill="#1a1a1a"/><circle cx="205.75" cy="292.5" r="0.6" fill="#1a1a1a"/><circle cx="215.58" cy="291.91" r="0.6" fill="#1a1a1a"/><circle cx="207.43" cy="291.04" r="0.6" fill="#1a1a1a"/><path d="M195.5,288.72 L198.14,290.4 L200.77,288.72 L203.41,290.4 L206.05,288.72 L208.68,290.4 L211.32,288.72 L213.95,290.4 L216.59,288.72 L219.23,290.4 L221.86,288.72 L224.5,290.4" fill="none" stroke="#1a1a1a" stroke-width="1.1" stroke-linejoin="round"/><path d="M224.5,294.28 L221.86,292.6 L219.23,294.28 L216.59,292.6 L213.95,294.28 L211.32,292.6 L208.68,294.28 L206.05,292.6 L203.41,294.28 L200.77,292.6 L198.14,294.28 L195.5,292.6" fill="none" stroke="#1a1a1a" stroke-width="1.1" stroke-linejoin="round"/>
<rect x="197" y="197" width="26" height="7" fill="#fff" stroke="#1a1a1a" stroke-width="1.3"/><circle cx="199.31" cy="198.65" r="0.6" fill="#1a1a1a"/><circle cx="199.7" cy="201.7" r="0.6" fill="#1a1a1a"/><circle cx="204.13" cy="198.82" r="0.6" fill="#1a1a1a"/><circle cx="200.03" cy="202.21" r="0.6" fill="#1a1a1a"/><circle cx="218.89" cy="201.35" r="0.6" fill="#1a1a1a"/><circle cx="204.77" cy="199.21" r="0.6" fill="#1a1a1a"/><circle cx="205.03" cy="200.3" r="0.6" fill="#1a1a1a"/><circle cx="201.78" cy="200.23" r="0.6" fill="#1a1a1a"/><circle cx="204.32" cy="202.81" r="0.6" fill="#1a1a1a"/><circle cx="221.34" cy="200.74" r="0.6" fill="#1a1a1a"/><circle cx="203.87" cy="202.83" r="0.6" fill="#1a1a1a"/><circle cx="205.43" cy="199.78" r="0.6" fill="#1a1a1a"/><circle cx="198.03" cy="199.91" r="0.6" fill="#1a1a1a"/><circle cx="209.39" cy="200.51" r="0.6" fill="#1a1a1a"/><circle cx="202.82" cy="200.52" r="0.6" fill="#1a1a1a"/><circle cx="198.12" cy="199.32" r="0.6" fill="#1a1a1a"/><circle cx="200.15" cy="200" r="0.6" fill="#1a1a1a"/><circle cx="199" cy="198.11" r="0.6" fill="#1a1a1a"/><circle cx="205.3" cy="199.16" r="0.6" fill="#1a1a1a"/><circle cx="212.05" cy="200.65" r="0.6" fill="#1a1a1a"/><circle cx="216.01" cy="201.29" r="0.6" fill="#1a1a1a"/><circle cx="215.18" cy="202.4" r="0.6" fill="#1a1a1a"/><circle cx="207.35" cy="199.63" r="0.6" fill="#1a1a1a"/><circle cx="221.63" cy="198.75" r="0.6" fill="#1a1a1a"/><circle cx="215.38" cy="201.22" r="0.6" fill="#1a1a1a"/><circle cx="199.05" cy="202.18" r="0.6" fill="#1a1a1a"/><circle cx="219.41" cy="201.14" r="0.6" fill="#1a1a1a"/><circle cx="215.61" cy="202.06" r="0.6" fill="#1a1a1a"/><circle cx="201.34" cy="200.62" r="0.6" fill="#1a1a1a"/><circle cx="210.1" cy="202.17" r="0.6" fill="#1a1a1a"/><rect x="198.5" y="198.5" width="23" height="4" fill="none" stroke="#1a1a1a" stroke-width="0.6"/>
<path d="M223.5,283.66 Q224,280.25 227.01,280.86 Q229.7,282.33 227.9,285.26 Q230.47,282.97 232.81,285.12 Q233.5,288.22 230.24,289.31 Q233.68,289.22 232.95,292.17 Q232.63,295.19 229.42,293.92 Q232.12,296.06 230.34,298.65 Q227.48,299.96 225.84,296.93 Q226.53,300.3 223.5,300.91 Q220.47,300.3 221.16,296.93 Q219.52,299.96 217.28,297.91 Q214.88,296.06 217.58,293.92 Q214.37,295.19 212.78,292.39 Q213.32,289.22 216.76,289.31 Q213.5,288.22 214.83,285.5 Q216.53,282.97 219.1,285.26 Q217.3,282.33 220.09,281.13 Q223,280.25 223.5,283.66Z" fill="#fff" stroke="#1a1a1a" stroke-width="1.2" stroke-linejoin="round"/><rect x="221.5" y="289.5" width="4" height="4" fill="#fff" stroke="#1a1a1a" stroke-width="1.2"/><circle cx="223.5" cy="285.5" r="0.9" fill="#1a1a1a"/>
<rect x="196" y="295" width="28" height="50" fill="#fff" stroke="#1a1a1a" stroke-width="1.8"/>
<rect x="206.5" y="295" width="7" height="50" fill="#fff" stroke="#1a1a1a" stroke-width="1.2"/>
<circle cx="211.22" cy="335.67" r="0.6" fill="#1a1a1a"/><circle cx="210.34" cy="338.86" r="0.6" fill="#1a1a1a"/><circle cx="210.73" cy="329.28" r="0.6" fill="#1a1a1a"/><circle cx="208.92" cy="297.5" r="0.6" fill="#1a1a1a"/><circle cx="208.53" cy="313.31" r="0.6" fill="#1a1a1a"/><circle cx="208.42" cy="336.12" r="0.6" fill="#1a1a1a"/><circle cx="210.23" cy="326.13" r="0.6" fill="#1a1a1a"/><circle cx="210.5" cy="328.67" r="0.6" fill="#1a1a1a"/><circle cx="209.96" cy="296.16" r="0.6" fill="#1a1a1a"/><circle cx="211.19" cy="331.92" r="0.6" fill="#1a1a1a"/><circle cx="210.01" cy="321.69" r="0.6" fill="#1a1a1a"/><circle cx="210.64" cy="299.17" r="0.6" fill="#1a1a1a"/>
<path d="M196,298 C199.5,298 202.5,300.6 206.5,300" fill="none" stroke="#1a1a1a" stroke-width="1.6"/>
<path d="M213.5,300 C217.5,300.6 220.5,298 223.2,298" fill="none" stroke="#1a1a1a" stroke-width="1.6"/>
<path d="M196,309.4 C199.5,309.4 202.5,312 206.5,311.4" fill="none" stroke="#1a1a1a" stroke-width="1.6"/>
<path d="M213.5,311.4 C217.5,312 220.5,309.4 223.2,309.4" fill="none" stroke="#1a1a1a" stroke-width="1.6"/>
<path d="M196,320.8 C199.5,320.8 202.5,323.4 206.5,322.8" fill="none" stroke="#1a1a1a" stroke-width="1.6"/>
<path d="M213.5,322.8 C217.5,323.4 220.5,320.8 223.2,320.8" fill="none" stroke="#1a1a1a" stroke-width="1.6"/>
<path d="M196,332.2 C199.5,332.2 202.5,334.8 206.5,334.2" fill="none" stroke="#1a1a1a" stroke-width="1.6"/>
<path d="M213.5,334.2 C217.5,334.8 220.5,332.2 223.2,332.2" fill="none" stroke="#1a1a1a" stroke-width="1.6"/>
<path d="M196,344.5 L196,371.3" fill="none" stroke="#1a1a1a" stroke-width="1.8"/>
<path d="M207,344.4 L222.8,344.4 L222.8,352.7" fill="none" stroke="#1a1a1a" stroke-width="1.6"/>
<rect x="221.2" y="342.8" width="3.2" height="3.2" fill="#fff" stroke="#1a1a1a" stroke-width="0.9"/>
<rect x="194.4" y="369.7" width="3.2" height="3.2" fill="#fff" stroke="#1a1a1a" stroke-width="0.9"/>
<path d="M193.5,338.16 Q194,334.75 197.01,335.36 Q199.7,336.83 197.9,339.76 Q200.47,337.47 202.81,339.62 Q203.5,342.72 200.24,343.81 Q203.68,343.72 202.95,346.67 Q202.63,349.69 199.42,348.42 Q202.12,350.56 200.34,353.15 Q197.48,354.46 195.84,351.43 Q196.53,354.8 193.5,355.41 Q190.47,354.8 191.16,351.43 Q189.52,354.46 187.28,352.41 Q184.88,350.56 187.58,348.42 Q184.37,349.69 182.78,346.89 Q183.32,343.72 186.76,343.81 Q183.5,342.72 184.83,340 Q186.53,337.47 189.1,339.76 Q187.3,336.83 190.09,335.63 Q193,334.75 193.5,338.16Z" fill="#fff" stroke="#1a1a1a" stroke-width="1.2" stroke-linejoin="round"/><rect x="191.5" y="344" width="4" height="4" fill="#fff" stroke="#1a1a1a" stroke-width="1.2"/><circle cx="193.5" cy="340" r="0.9" fill="#1a1a1a"/>
<line x1="224.1" y1="353.6" x2="265.82" y2="395.32" stroke="#1a1a1a" stroke-width="2.4"/><line x1="224.1" y1="353.6" x2="265.82" y2="395.32" stroke="#888" stroke-width="0.6"/><line x1="219.58" y1="358.13" x2="261.3" y2="399.85" stroke="#1a1a1a" stroke-width="1.5"/><line x1="208.62" y1="369.09" x2="250.34" y2="410.81" stroke="#1a1a1a" stroke-width="1.5"/><line x1="204.59" y1="373.12" x2="246.31" y2="414.84" stroke="#1a1a1a" stroke-width="2.4"/><line x1="204.59" y1="373.12" x2="246.31" y2="414.84" stroke="#888" stroke-width="0.6"/><line x1="224.1" y1="353.6" x2="204.59" y2="373.12" stroke="#1a1a1a" stroke-width="1.3"/><line x1="265.82" y1="395.32" x2="246.31" y2="414.84" stroke="#1a1a1a" stroke-width="1.3"/><line x1="222.41" y1="360.96" x2="211.45" y2="371.92" stroke="#1a1a1a" stroke-width="2.1"/><line x1="231.17" y1="369.73" x2="220.21" y2="380.69" stroke="#1a1a1a" stroke-width="2.1"/><line x1="239.94" y1="378.49" x2="228.98" y2="389.45" stroke="#1a1a1a" stroke-width="2.1"/><line x1="248.71" y1="387.26" x2="237.75" y2="398.22" stroke="#1a1a1a" stroke-width="2.1"/><line x1="257.48" y1="396.03" x2="246.52" y2="406.99" stroke="#1a1a1a" stroke-width="2.1"/><line x1="231.32" y1="360.82" x2="226.79" y2="365.34" stroke="#1a1a1a" stroke-width="1.6"/><line x1="215.83" y1="376.3" x2="211.8" y2="380.33" stroke="#1a1a1a" stroke-width="1.6"/><line x1="240.08" y1="369.58" x2="235.56" y2="374.11" stroke="#1a1a1a" stroke-width="1.6"/><line x1="224.6" y1="385.07" x2="220.57" y2="389.1" stroke="#1a1a1a" stroke-width="1.6"/><line x1="248.85" y1="378.35" x2="244.33" y2="382.88" stroke="#1a1a1a" stroke-width="1.6"/><line x1="233.37" y1="393.84" x2="229.34" y2="397.87" stroke="#1a1a1a" stroke-width="1.6"/><line x1="257.62" y1="387.12" x2="253.09" y2="391.65" stroke="#1a1a1a" stroke-width="1.6"/><line x1="242.13" y1="402.61" x2="238.1" y2="406.64" stroke="#1a1a1a" stroke-width="1.6"/>
<path d="M264,391.2 L271,392.6 L271,420" fill="none" stroke="#1a1a1a" stroke-width="1.8"/>
<line x1="244" y1="413" x2="244" y2="426.8" stroke="#1a1a1a" stroke-width="1.8"/>
<line x1="243.8" y1="420" x2="297.5" y2="420" stroke="#1a1a1a" stroke-width="1"/>
<line x1="270.6" y1="420" x2="270.6" y2="446.8" stroke="#1a1a1a" stroke-width="1"/>
<line x1="297.5" y1="420" x2="297.5" y2="446.8" stroke="#1a1a1a" stroke-width="1"/>
<line x1="263.8" y1="446.8" x2="297.5" y2="446.8" stroke="#1a1a1a" stroke-width="1.4"/>
<rect x="242.2" y="418.4" width="3.2" height="3.2" fill="#fff" stroke="#1a1a1a" stroke-width="0.9"/>
<rect x="269.4" y="391" width="3.2" height="3.2" fill="#fff" stroke="#1a1a1a" stroke-width="0.9"/>
<rect x="269" y="445.2" width="3.2" height="3.2" fill="#fff" stroke="#1a1a1a" stroke-width="0.9"/>
<rect x="295.9" y="445.2" width="3.2" height="3.2" fill="#fff" stroke="#1a1a1a" stroke-width="0.9"/>
<rect x="295.9" y="418.4" width="3.2" height="3.2" fill="#fff" stroke="#1a1a1a" stroke-width="0.9"/>
<path d="M270.6,407.8 Q271.13,404.21 274.29,404.85 Q277.13,406.4 275.23,409.48 Q277.94,407.08 280.41,409.34 Q281.13,412.61 277.69,413.75 Q281.32,413.65 280.55,416.75 Q280.21,419.93 276.84,418.6 Q279.68,420.85 277.8,423.58 Q274.79,424.96 273.06,421.77 Q273.79,425.32 270.6,425.96 Q267.41,425.32 268.14,421.77 Q266.41,424.96 264.05,422.8 Q261.52,420.85 264.36,418.6 Q260.99,419.93 259.31,416.99 Q259.88,413.65 263.51,413.75 Q260.07,412.61 261.48,409.73 Q263.26,407.08 265.97,409.48 Q264.07,406.4 267.01,405.14 Q270.07,404.21 270.6,407.8Z" fill="#fff" stroke="#1a1a1a" stroke-width="1.2" stroke-linejoin="round"/><rect x="268.6" y="414" width="4" height="4" fill="#fff" stroke="#1a1a1a" stroke-width="1.2"/><circle cx="270.6" cy="410" r="0.9" fill="#1a1a1a"/>
<rect x="272.7" y="448.8" width="23.3" height="6.9" fill="#fff" stroke="#1a1a1a" stroke-width="1.3"/><circle cx="289.39" cy="451.04" r="0.6" fill="#1a1a1a"/><circle cx="275.29" cy="451.1" r="0.6" fill="#1a1a1a"/><circle cx="289.23" cy="450.81" r="0.6" fill="#1a1a1a"/><circle cx="289.46" cy="454.58" r="0.6" fill="#1a1a1a"/><circle cx="284.22" cy="451.67" r="0.6" fill="#1a1a1a"/><circle cx="283.9" cy="453.15" r="0.6" fill="#1a1a1a"/><circle cx="290.04" cy="452.82" r="0.6" fill="#1a1a1a"/><circle cx="287.39" cy="450.18" r="0.6" fill="#1a1a1a"/><circle cx="276.84" cy="451.04" r="0.6" fill="#1a1a1a"/><circle cx="289.53" cy="451.29" r="0.6" fill="#1a1a1a"/><circle cx="285.79" cy="449.86" r="0.6" fill="#1a1a1a"/><circle cx="274.99" cy="451.12" r="0.6" fill="#1a1a1a"/><circle cx="288.01" cy="453.19" r="0.6" fill="#1a1a1a"/><circle cx="288.09" cy="451.23" r="0.6" fill="#1a1a1a"/><circle cx="284.7" cy="452.08" r="0.6" fill="#1a1a1a"/><circle cx="283.63" cy="450.38" r="0.6" fill="#1a1a1a"/><circle cx="292.74" cy="450.78" r="0.6" fill="#1a1a1a"/><circle cx="294.53" cy="454.39" r="0.6" fill="#1a1a1a"/><circle cx="274.07" cy="452.05" r="0.6" fill="#1a1a1a"/><circle cx="291.16" cy="454.54" r="0.6" fill="#1a1a1a"/><circle cx="283.27" cy="451.12" r="0.6" fill="#1a1a1a"/><circle cx="278.17" cy="454.43" r="0.6" fill="#1a1a1a"/><circle cx="278.19" cy="452.65" r="0.6" fill="#1a1a1a"/><circle cx="276.72" cy="452.37" r="0.6" fill="#1a1a1a"/><circle cx="293.99" cy="450.45" r="0.6" fill="#1a1a1a"/><circle cx="291.17" cy="452.29" r="0.6" fill="#1a1a1a"/><rect x="274.2" y="450.3" width="20.3" height="3.9" fill="none" stroke="#1a1a1a" stroke-width="0.6"/>
<line x1="245.91" y1="425.09" x2="204.33" y2="466.67" stroke="#1a1a1a" stroke-width="2.4"/><line x1="245.91" y1="425.09" x2="204.33" y2="466.67" stroke="#888" stroke-width="0.6"/><line x1="249.87" y1="429.05" x2="208.29" y2="470.63" stroke="#1a1a1a" stroke-width="1.5"/><line x1="260.76" y1="439.94" x2="219.18" y2="481.52" stroke="#1a1a1a" stroke-width="1.5"/><line x1="265.71" y1="444.89" x2="224.13" y2="486.47" stroke="#1a1a1a" stroke-width="2.4"/><line x1="265.71" y1="444.89" x2="224.13" y2="486.47" stroke="#888" stroke-width="0.6"/><line x1="245.91" y1="425.09" x2="265.71" y2="444.89" stroke="#1a1a1a" stroke-width="1.3"/><line x1="204.33" y1="466.67" x2="224.13" y2="486.47" stroke="#1a1a1a" stroke-width="1.3"/><line x1="244.92" y1="434" x2="255.81" y2="444.89" stroke="#1a1a1a" stroke-width="2.1"/><line x1="235.59" y1="443.33" x2="246.48" y2="454.22" stroke="#1a1a1a" stroke-width="2.1"/><line x1="226.25" y1="452.67" x2="237.14" y2="463.56" stroke="#1a1a1a" stroke-width="2.1"/><line x1="216.92" y1="462" x2="227.81" y2="472.89" stroke="#1a1a1a" stroke-width="2.1"/><line x1="236.29" y1="434.71" x2="240.25" y2="438.67" stroke="#1a1a1a" stroke-width="1.6"/><line x1="251.14" y1="449.56" x2="256.09" y2="454.51" stroke="#1a1a1a" stroke-width="1.6"/><line x1="226.96" y1="444.04" x2="230.92" y2="448" stroke="#1a1a1a" stroke-width="1.6"/><line x1="241.81" y1="458.89" x2="246.76" y2="463.84" stroke="#1a1a1a" stroke-width="1.6"/><line x1="217.63" y1="453.37" x2="221.59" y2="457.33" stroke="#1a1a1a" stroke-width="1.6"/><line x1="232.47" y1="468.22" x2="237.42" y2="473.17" stroke="#1a1a1a" stroke-width="1.6"/><line x1="208.29" y1="462.71" x2="212.25" y2="466.67" stroke="#1a1a1a" stroke-width="1.6"/><line x1="223.14" y1="477.56" x2="228.09" y2="482.51" stroke="#1a1a1a" stroke-width="1.6"/>
<line x1="225.4" y1="450" x2="225.4" y2="485" stroke="#1a1a1a" stroke-width="0.9"/>
<line x1="297.5" y1="419.4" x2="372.5" y2="419.4" stroke="#1a1a1a" stroke-width="2.2"/>
<line x1="297.5" y1="446.6" x2="432.5" y2="446.6" stroke="#1a1a1a" stroke-width="2.2"/>
<line x1="298" y1="429.25" x2="352.8" y2="429.25" stroke="#1a1a1a" stroke-width="1.3"/>
<line x1="298" y1="436.25" x2="352.8" y2="436.25" stroke="#1a1a1a" stroke-width="1.3"/>
<circle cx="345.12" cy="433.81" r="0.6" fill="#1a1a1a"/><circle cx="311.03" cy="434.59" r="0.6" fill="#1a1a1a"/><circle cx="324.28" cy="431.1" r="0.6" fill="#1a1a1a"/><circle cx="299.19" cy="432.97" r="0.6" fill="#1a1a1a"/><circle cx="322.44" cy="432.21" r="0.6" fill="#1a1a1a"/><circle cx="306.32" cy="432.38" r="0.6" fill="#1a1a1a"/><circle cx="315.44" cy="434.36" r="0.6" fill="#1a1a1a"/><circle cx="299.09" cy="434" r="0.6" fill="#1a1a1a"/><circle cx="342.63" cy="431.48" r="0.6" fill="#1a1a1a"/><circle cx="347.17" cy="433.85" r="0.6" fill="#1a1a1a"/>
<path d="M308.4,429 Q309,423.5 311.6,420" fill="none" stroke="#1a1a1a" stroke-width="1.6"/>
<path d="M308.4,436.5 Q309,442 312.4,446" fill="none" stroke="#1a1a1a" stroke-width="1.6"/>
<path d="M319.75,429 Q320.35,423.5 322.95,420" fill="none" stroke="#1a1a1a" stroke-width="1.6"/>
<path d="M319.75,436.5 Q320.35,442 323.75,446" fill="none" stroke="#1a1a1a" stroke-width="1.6"/>
<path d="M331.1,429 Q331.7,423.5 334.3,420" fill="none" stroke="#1a1a1a" stroke-width="1.6"/>
<path d="M331.1,436.5 Q331.7,442 335.1,446" fill="none" stroke="#1a1a1a" stroke-width="1.6"/>
<path d="M342.5,429 Q343.1,423.5 345.7,420" fill="none" stroke="#1a1a1a" stroke-width="1.6"/>
<path d="M342.5,436.5 Q343.1,442 346.5,446" fill="none" stroke="#1a1a1a" stroke-width="1.6"/>
<line x1="352.8" y1="419.4" x2="352.8" y2="446.6" stroke="#1a1a1a" stroke-width="1"/>
<line x1="380" y1="419.4" x2="380" y2="446.6" stroke="#1a1a1a" stroke-width="1"/>
<line x1="407" y1="419.4" x2="407" y2="474" stroke="#1a1a1a" stroke-width="1.8"/>
<line x1="372.5" y1="419.4" x2="407" y2="419.4" stroke="#1a1a1a" stroke-width="1.2"/>
<rect x="295.9" y="445" width="3.2" height="3.2" fill="#fff" stroke="#1a1a1a" stroke-width="0.9"/>
<rect x="351.2" y="445" width="3.2" height="3.2" fill="#fff" stroke="#1a1a1a" stroke-width="0.9"/>
<rect x="378.4" y="445" width="3.2" height="3.2" fill="#fff" stroke="#1a1a1a" stroke-width="0.9"/>
<rect x="405.4" y="445" width="3.2" height="3.2" fill="#fff" stroke="#1a1a1a" stroke-width="0.9"/>
<rect x="431.9" y="445" width="3.2" height="3.2" fill="#fff" stroke="#1a1a1a" stroke-width="0.9"/>
<rect x="295.9" y="417.8" width="3.2" height="3.2" fill="#fff" stroke="#1a1a1a" stroke-width="0.9"/>
<rect x="351.2" y="417.8" width="3.2" height="3.2" fill="#fff" stroke="#1a1a1a" stroke-width="0.9"/>
<rect x="439.5" y="235.5" width="17" height="90.5" fill="none" stroke="#1a1a1a" stroke-width="1.6"/>
<line x1="439.5" y1="237.6" x2="456.5" y2="237.6" stroke="#1a1a1a" stroke-width="0.9"/>
<line x1="439.5" y1="239" x2="456.5" y2="239" stroke="#1a1a1a" stroke-width="0.9"/>
<line x1="439.5" y1="249.4" x2="456.5" y2="249.4" stroke="#1a1a1a" stroke-width="1.3"/>
<line x1="439.5" y1="263.5" x2="456.5" y2="263.5" stroke="#1a1a1a" stroke-width="1.3"/>
<line x1="438.3" y1="267" x2="438.3" y2="278" stroke="#1a1a1a" stroke-width="1.4"/>
<line x1="457.7" y1="267" x2="457.7" y2="278" stroke="#1a1a1a" stroke-width="1.4"/>
<rect x="373" y="392" width="27" height="27" fill="#fff" stroke="#1a1a1a" stroke-width="1.5"/><circle cx="396.54" cy="400.25" r="0.6" fill="#1a1a1a"/><circle cx="383.31" cy="402.82" r="0.6" fill="#1a1a1a"/><circle cx="398.97" cy="407.73" r="0.6" fill="#1a1a1a"/><circle cx="383.02" cy="403.7" r="0.6" fill="#1a1a1a"/><circle cx="380.88" cy="394.21" r="0.6" fill="#1a1a1a"/><circle cx="376.54" cy="413.87" r="0.6" fill="#1a1a1a"/><circle cx="381.14" cy="416.39" r="0.6" fill="#1a1a1a"/><circle cx="380.23" cy="399.64" r="0.6" fill="#1a1a1a"/><circle cx="386.77" cy="397.75" r="0.6" fill="#1a1a1a"/><circle cx="383.33" cy="416.9" r="0.6" fill="#1a1a1a"/><circle cx="396.11" cy="413.3" r="0.6" fill="#1a1a1a"/><circle cx="389.77" cy="415.84" r="0.6" fill="#1a1a1a"/><circle cx="397.52" cy="406.73" r="0.6" fill="#1a1a1a"/><g transform="translate(384.34,399.56) rotate(-15)"><path d="M-7.5,0 C-3.75,-6.12 3.75,-6.12 7.5,0 C3.75,6.12 -3.75,6.12 -7.5,0Z" fill="#fff" stroke="#1a1a1a" stroke-width="1.35"/><path d="M-5.7,1 Q0,-1.2 4.5,0.8" fill="none" stroke="#1a1a1a" stroke-width="1.2"/></g><g transform="translate(384.34,411.44) rotate(15)"><path d="M-7.5,0 C-3.75,-6.12 3.75,-6.12 7.5,0 C3.75,6.12 -3.75,6.12 -7.5,0Z" fill="#fff" stroke="#1a1a1a" stroke-width="1.35"/><path d="M-5.7,1 Q0,-1.2 4.5,0.8" fill="none" stroke="#1a1a1a" stroke-width="1.2"/></g><path d="M372.68,419 L374.6,416.55 L372.68,414.09 L374.6,411.64 L372.68,409.18 L374.6,406.73 L372.68,404.27 L374.6,401.82 L372.68,399.36 L374.6,396.91 L372.68,394.45 L374.6,392" fill="none" stroke="#1a1a1a" stroke-width="1.1" stroke-linejoin="round"/>
<rect x="400" y="392" width="30" height="27" fill="#fff" stroke="#1a1a1a" stroke-width="1.5"/><circle cx="421.15" cy="394.24" r="0.6" fill="#1a1a1a"/><circle cx="421.51" cy="404.27" r="0.6" fill="#1a1a1a"/><circle cx="422.07" cy="409.11" r="0.6" fill="#1a1a1a"/><circle cx="409.01" cy="394.22" r="0.6" fill="#1a1a1a"/><circle cx="426.95" cy="396.18" r="0.6" fill="#1a1a1a"/><circle cx="414.22" cy="401.59" r="0.6" fill="#1a1a1a"/><circle cx="409.34" cy="411.48" r="0.6" fill="#1a1a1a"/><circle cx="428.34" cy="399.5" r="0.6" fill="#1a1a1a"/><circle cx="419.37" cy="400.52" r="0.6" fill="#1a1a1a"/><circle cx="416.61" cy="402.86" r="0.6" fill="#1a1a1a"/><circle cx="405.69" cy="397.04" r="0.6" fill="#1a1a1a"/><circle cx="406.82" cy="415.65" r="0.6" fill="#1a1a1a"/><circle cx="414.92" cy="398.5" r="0.6" fill="#1a1a1a"/><circle cx="426.38" cy="417.91" r="0.6" fill="#1a1a1a"/><g transform="translate(412.6,399.56) rotate(-15)"><path d="M-7.5,0 C-3.75,-6.12 3.75,-6.12 7.5,0 C3.75,6.12 -3.75,6.12 -7.5,0Z" fill="#fff" stroke="#1a1a1a" stroke-width="1.35"/><path d="M-5.7,1 Q0,-1.2 4.5,0.8" fill="none" stroke="#1a1a1a" stroke-width="1.2"/></g><g transform="translate(412.6,411.44) rotate(15)"><path d="M-7.5,0 C-3.75,-6.12 3.75,-6.12 7.5,0 C3.75,6.12 -3.75,6.12 -7.5,0Z" fill="#fff" stroke="#1a1a1a" stroke-width="1.35"/><path d="M-5.7,1 Q0,-1.2 4.5,0.8" fill="none" stroke="#1a1a1a" stroke-width="1.2"/></g><g transform="translate(425.5,405.5) rotate(0)"><path d="M-4,0 C-2,-3.06 2,-3.06 4,0 C2,3.06 -2,3.06 -4,0Z" fill="#fff" stroke="#1a1a1a" stroke-width="1.35"/><path d="M-3.04,1 Q0,-1.2 2.4,0.8" fill="none" stroke="#1a1a1a" stroke-width="1.2"/></g>
<rect x="381" y="383" width="26" height="6.5" fill="#fff" stroke="#1a1a1a" stroke-width="1.3"/><circle cx="392.8" cy="384.63" r="0.6" fill="#1a1a1a"/><circle cx="386.62" cy="384.41" r="0.6" fill="#1a1a1a"/><circle cx="390.21" cy="384.41" r="0.6" fill="#1a1a1a"/><circle cx="387.74" cy="385.16" r="0.6" fill="#1a1a1a"/><circle cx="395.67" cy="387.99" r="0.6" fill="#1a1a1a"/><circle cx="399.99" cy="385.86" r="0.6" fill="#1a1a1a"/><circle cx="391.93" cy="386.36" r="0.6" fill="#1a1a1a"/><circle cx="391.04" cy="385.52" r="0.6" fill="#1a1a1a"/><circle cx="383.49" cy="385.25" r="0.6" fill="#1a1a1a"/><circle cx="405.22" cy="384.57" r="0.6" fill="#1a1a1a"/><circle cx="394.08" cy="386.83" r="0.6" fill="#1a1a1a"/><circle cx="402.71" cy="384.97" r="0.6" fill="#1a1a1a"/><circle cx="388.5" cy="385.12" r="0.6" fill="#1a1a1a"/><circle cx="391.59" cy="386.01" r="0.6" fill="#1a1a1a"/><circle cx="404.89" cy="387.82" r="0.6" fill="#1a1a1a"/><circle cx="402.95" cy="384.1" r="0.6" fill="#1a1a1a"/><circle cx="382.77" cy="387.19" r="0.6" fill="#1a1a1a"/><circle cx="403.5" cy="386.13" r="0.6" fill="#1a1a1a"/><circle cx="396.09" cy="384" r="0.6" fill="#1a1a1a"/><circle cx="391.4" cy="388.17" r="0.6" fill="#1a1a1a"/><circle cx="401.81" cy="387.85" r="0.6" fill="#1a1a1a"/><circle cx="405.33" cy="385.12" r="0.6" fill="#1a1a1a"/><circle cx="384.62" cy="384.69" r="0.6" fill="#1a1a1a"/><circle cx="394.54" cy="387.07" r="0.6" fill="#1a1a1a"/><circle cx="404.6" cy="387.25" r="0.6" fill="#1a1a1a"/><circle cx="397.54" cy="387.44" r="0.6" fill="#1a1a1a"/><circle cx="392.98" cy="386.48" r="0.6" fill="#1a1a1a"/><circle cx="382.95" cy="387.52" r="0.6" fill="#1a1a1a"/><rect x="382.5" y="384.5" width="23" height="3.5" fill="none" stroke="#1a1a1a" stroke-width="0.6"/>
<rect x="521" y="397.5" width="84" height="16.5" fill="none" stroke="#1a1a1a" stroke-width="1.6"/><line x1="576" y1="397.5" x2="576" y2="414" stroke="#1a1a1a" stroke-width="1.1"/><line x1="585" y1="397.5" x2="585" y2="414" stroke="#1a1a1a" stroke-width="1.1"/><line x1="592.5" y1="397.5" x2="592.5" y2="414" stroke="#1a1a1a" stroke-width="1.1"/>
<line x1="564" y1="396.6" x2="573" y2="396.6" stroke="#1a1a1a" stroke-width="1"/>
<line x1="564" y1="415.6" x2="573" y2="415.6" stroke="#1a1a1a" stroke-width="1"/>
<rect x="465" y="390.5" width="35" height="29.5" fill="#fff" stroke="#1a1a1a" stroke-width="1.5"/><circle cx="473.68" cy="416.8" r="0.6" fill="#1a1a1a"/><circle cx="487.3" cy="399.85" r="0.6" fill="#1a1a1a"/><circle cx="470.22" cy="398.42" r="0.6" fill="#1a1a1a"/><circle cx="487" cy="410.71" r="0.6" fill="#1a1a1a"/><circle cx="469.7" cy="393.43" r="0.6" fill="#1a1a1a"/><circle cx="483.31" cy="407.53" r="0.6" fill="#1a1a1a"/><circle cx="478.81" cy="397.65" r="0.6" fill="#1a1a1a"/><circle cx="485.84" cy="391.79" r="0.6" fill="#1a1a1a"/><circle cx="475.95" cy="404.17" r="0.6" fill="#1a1a1a"/><circle cx="497.65" cy="409.23" r="0.6" fill="#1a1a1a"/><circle cx="495.16" cy="404.57" r="0.6" fill="#1a1a1a"/><circle cx="473.75" cy="398.29" r="0.6" fill="#1a1a1a"/><circle cx="497.7" cy="410.88" r="0.6" fill="#1a1a1a"/><circle cx="476.14" cy="392.1" r="0.6" fill="#1a1a1a"/><circle cx="482.44" cy="410.05" r="0.6" fill="#1a1a1a"/><circle cx="479.86" cy="398.57" r="0.6" fill="#1a1a1a"/><circle cx="488.02" cy="416.94" r="0.6" fill="#1a1a1a"/><circle cx="473.48" cy="392.44" r="0.6" fill="#1a1a1a"/><g transform="translate(479.7,398.76) rotate(-15)"><path d="M-7.5,0 C-3.75,-6.12 3.75,-6.12 7.5,0 C3.75,6.12 -3.75,6.12 -7.5,0Z" fill="#fff" stroke="#1a1a1a" stroke-width="1.35"/><path d="M-5.7,1 Q0,-1.2 4.5,0.8" fill="none" stroke="#1a1a1a" stroke-width="1.2"/></g><g transform="translate(479.7,411.74) rotate(15)"><path d="M-7.5,0 C-3.75,-6.12 3.75,-6.12 7.5,0 C3.75,6.12 -3.75,6.12 -7.5,0Z" fill="#fff" stroke="#1a1a1a" stroke-width="1.35"/><path d="M-5.7,1 Q0,-1.2 4.5,0.8" fill="none" stroke="#1a1a1a" stroke-width="1.2"/></g><g transform="translate(494.75,405.25) rotate(0)"><path d="M-4,0 C-2,-3.06 2,-3.06 4,0 C2,3.06 -2,3.06 -4,0Z" fill="#fff" stroke="#1a1a1a" stroke-width="1.35"/><path d="M-3.04,1 Q0,-1.2 2.4,0.8" fill="none" stroke="#1a1a1a" stroke-width="1.2"/></g>
<rect x="500" y="390.5" width="21" height="29.5" fill="#fff" stroke="#1a1a1a" stroke-width="1.5"/><circle cx="507.42" cy="403.07" r="0.6" fill="#1a1a1a"/><circle cx="513.97" cy="396.95" r="0.6" fill="#1a1a1a"/><circle cx="516.14" cy="411.83" r="0.6" fill="#1a1a1a"/><circle cx="510.59" cy="397.14" r="0.6" fill="#1a1a1a"/><circle cx="519.43" cy="400.07" r="0.6" fill="#1a1a1a"/><circle cx="516.58" cy="397.85" r="0.6" fill="#1a1a1a"/><circle cx="505.21" cy="412.41" r="0.6" fill="#1a1a1a"/><circle cx="506.6" cy="417.68" r="0.6" fill="#1a1a1a"/><circle cx="510.42" cy="396.65" r="0.6" fill="#1a1a1a"/><circle cx="505.24" cy="402.97" r="0.6" fill="#1a1a1a"/><circle cx="513.64" cy="417.59" r="0.6" fill="#1a1a1a"/><g transform="translate(508.82,398.76) rotate(-15)"><path d="M-7.5,0 C-3.75,-6.12 3.75,-6.12 7.5,0 C3.75,6.12 -3.75,6.12 -7.5,0Z" fill="#fff" stroke="#1a1a1a" stroke-width="1.35"/><path d="M-5.7,1 Q0,-1.2 4.5,0.8" fill="none" stroke="#1a1a1a" stroke-width="1.2"/></g><g transform="translate(508.82,411.74) rotate(15)"><path d="M-7.5,0 C-3.75,-6.12 3.75,-6.12 7.5,0 C3.75,6.12 -3.75,6.12 -7.5,0Z" fill="#fff" stroke="#1a1a1a" stroke-width="1.35"/><path d="M-5.7,1 Q0,-1.2 4.5,0.8" fill="none" stroke="#1a1a1a" stroke-width="1.2"/></g><path d="M521.32,390.5 L519.4,392.96 L521.32,395.42 L519.4,397.88 L521.32,400.33 L519.4,402.79 L521.32,405.25 L519.4,407.71 L521.32,410.17 L519.4,412.62 L521.32,415.08 L519.4,417.54 L521.32,420" fill="none" stroke="#1a1a1a" stroke-width="1.1" stroke-linejoin="round"/>
<rect x="433" y="325" width="30" height="34" fill="#fff" stroke="#1a1a1a" stroke-width="1.5"/><circle cx="438.1" cy="338.59" r="0.6" fill="#1a1a1a"/><circle cx="439.96" cy="357.17" r="0.6" fill="#1a1a1a"/><circle cx="437.97" cy="327.66" r="0.6" fill="#1a1a1a"/><circle cx="435.68" cy="338.59" r="0.6" fill="#1a1a1a"/><circle cx="459.15" cy="354.27" r="0.6" fill="#1a1a1a"/><circle cx="454.52" cy="357.92" r="0.6" fill="#1a1a1a"/><circle cx="460.08" cy="336.54" r="0.6" fill="#1a1a1a"/><circle cx="439.19" cy="355.95" r="0.6" fill="#1a1a1a"/><circle cx="454.9" cy="327.02" r="0.6" fill="#1a1a1a"/><circle cx="452.6" cy="338.12" r="0.6" fill="#1a1a1a"/><circle cx="444.47" cy="336.61" r="0.6" fill="#1a1a1a"/><circle cx="438.74" cy="326.09" r="0.6" fill="#1a1a1a"/><circle cx="441.83" cy="337.25" r="0.6" fill="#1a1a1a"/><circle cx="460.75" cy="329.96" r="0.6" fill="#1a1a1a"/><circle cx="461" cy="332.64" r="0.6" fill="#1a1a1a"/><circle cx="443.99" cy="352.29" r="0.6" fill="#1a1a1a"/><circle cx="457.02" cy="339.84" r="0.6" fill="#1a1a1a"/><circle cx="435.38" cy="341.15" r="0.6" fill="#1a1a1a"/><g transform="translate(441.4,338.6) rotate(80)"><path d="M-7.5,0 C-3.75,-6.12 3.75,-6.12 7.5,0 C3.75,6.12 -3.75,6.12 -7.5,0Z" fill="#fff" stroke="#1a1a1a" stroke-width="1.35"/><path d="M-5.7,1 Q0,-1.2 4.5,0.8" fill="none" stroke="#1a1a1a" stroke-width="1.2"/></g><g transform="translate(454.6,338.6) rotate(100)"><path d="M-7.5,0 C-3.75,-6.12 3.75,-6.12 7.5,0 C3.75,6.12 -3.75,6.12 -7.5,0Z" fill="#fff" stroke="#1a1a1a" stroke-width="1.35"/><path d="M-5.7,1 Q0,-1.2 4.5,0.8" fill="none" stroke="#1a1a1a" stroke-width="1.2"/></g><g transform="translate(448,352.88) rotate(90)"><path d="M-4.5,0 C-2.25,-3.4 2.25,-3.4 4.5,0 C2.25,3.4 -2.25,3.4 -4.5,0Z" fill="#fff" stroke="#1a1a1a" stroke-width="1.35"/><path d="M-3.42,1 Q0,-1.2 2.7,0.8" fill="none" stroke="#1a1a1a" stroke-width="1.2"/></g><path d="M433,324.68 L435.5,326.6 L438,324.68 L440.5,326.6 L443,324.68 L445.5,326.6 L448,324.68 L450.5,326.6 L453,324.68 L455.5,326.6 L458,324.68 L460.5,326.6 L463,324.68" fill="none" stroke="#1a1a1a" stroke-width="1.1" stroke-linejoin="round"/>
<rect x="433" y="359" width="30" height="23" fill="#fff" stroke="#1a1a1a" stroke-width="1.5"/><circle cx="444.44" cy="379.31" r="0.6" fill="#1a1a1a"/><circle cx="439.4" cy="367.65" r="0.6" fill="#1a1a1a"/><circle cx="459.12" cy="360.64" r="0.6" fill="#1a1a1a"/><circle cx="445.5" cy="377.05" r="0.6" fill="#1a1a1a"/><circle cx="455.47" cy="360.85" r="0.6" fill="#1a1a1a"/><circle cx="434.98" cy="361.31" r="0.6" fill="#1a1a1a"/><circle cx="459.76" cy="365.4" r="0.6" fill="#1a1a1a"/><circle cx="454.92" cy="378.87" r="0.6" fill="#1a1a1a"/><circle cx="443.49" cy="365.72" r="0.6" fill="#1a1a1a"/><circle cx="460.82" cy="372.96" r="0.6" fill="#1a1a1a"/><circle cx="441.34" cy="375.05" r="0.6" fill="#1a1a1a"/><circle cx="442.86" cy="365.79" r="0.6" fill="#1a1a1a"/><g transform="translate(441.4,370.5) rotate(80)"><path d="M-7,0 C-3.5,-5.78 3.5,-5.78 7,0 C3.5,5.78 -3.5,5.78 -7,0Z" fill="#fff" stroke="#1a1a1a" stroke-width="1.35"/><path d="M-5.32,1 Q0,-1.2 4.2,0.8" fill="none" stroke="#1a1a1a" stroke-width="1.2"/></g><g transform="translate(454.6,370.5) rotate(100)"><path d="M-7,0 C-3.5,-5.78 3.5,-5.78 7,0 C3.5,5.78 -3.5,5.78 -7,0Z" fill="#fff" stroke="#1a1a1a" stroke-width="1.35"/><path d="M-5.32,1 Q0,-1.2 4.2,0.8" fill="none" stroke="#1a1a1a" stroke-width="1.2"/></g>
<rect x="433" y="430" width="30" height="18.5" fill="#fff" stroke="#1a1a1a" stroke-width="1.5"/><circle cx="434.11" cy="443.47" r="0.6" fill="#1a1a1a"/><circle cx="459.66" cy="441.46" r="0.6" fill="#1a1a1a"/><circle cx="460.41" cy="431.4" r="0.6" fill="#1a1a1a"/><circle cx="440.55" cy="438.84" r="0.6" fill="#1a1a1a"/><circle cx="460.79" cy="446.74" r="0.6" fill="#1a1a1a"/><circle cx="444.82" cy="435.14" r="0.6" fill="#1a1a1a"/><circle cx="446.04" cy="439.14" r="0.6" fill="#1a1a1a"/><circle cx="459.99" cy="434.02" r="0.6" fill="#1a1a1a"/><circle cx="456.47" cy="443.19" r="0.6" fill="#1a1a1a"/><circle cx="457.04" cy="443.75" r="0.6" fill="#1a1a1a"/><g transform="translate(441.4,439.25) rotate(80)"><path d="M-7,0 C-3.5,-5.78 3.5,-5.78 7,0 C3.5,5.78 -3.5,5.78 -7,0Z" fill="#fff" stroke="#1a1a1a" stroke-width="1.35"/><path d="M-5.32,1 Q0,-1.2 4.2,0.8" fill="none" stroke="#1a1a1a" stroke-width="1.2"/></g><g transform="translate(454.6,439.25) rotate(100)"><path d="M-7,0 C-3.5,-5.78 3.5,-5.78 7,0 C3.5,5.78 -3.5,5.78 -7,0Z" fill="#fff" stroke="#1a1a1a" stroke-width="1.35"/><path d="M-5.32,1 Q0,-1.2 4.2,0.8" fill="none" stroke="#1a1a1a" stroke-width="1.2"/></g>
<rect x="433" y="448.5" width="30" height="37.5" fill="#fff" stroke="#1a1a1a" stroke-width="1.5"/><circle cx="451" cy="461.14" r="0.6" fill="#1a1a1a"/><circle cx="442.95" cy="462.35" r="0.6" fill="#1a1a1a"/><circle cx="455.9" cy="452.31" r="0.6" fill="#1a1a1a"/><circle cx="439.52" cy="476.23" r="0.6" fill="#1a1a1a"/><circle cx="440.92" cy="451.8" r="0.6" fill="#1a1a1a"/><circle cx="434.95" cy="469.12" r="0.6" fill="#1a1a1a"/><circle cx="443.12" cy="484.3" r="0.6" fill="#1a1a1a"/><circle cx="458.74" cy="484.57" r="0.6" fill="#1a1a1a"/><circle cx="441.42" cy="452.48" r="0.6" fill="#1a1a1a"/><circle cx="436.7" cy="467.2" r="0.6" fill="#1a1a1a"/><circle cx="453.87" cy="465.37" r="0.6" fill="#1a1a1a"/><circle cx="440.56" cy="464.3" r="0.6" fill="#1a1a1a"/><circle cx="451.37" cy="473.43" r="0.6" fill="#1a1a1a"/><circle cx="454.94" cy="479.57" r="0.6" fill="#1a1a1a"/><circle cx="452.6" cy="453.8" r="0.6" fill="#1a1a1a"/><circle cx="457.54" cy="459.93" r="0.6" fill="#1a1a1a"/><circle cx="449.87" cy="462.74" r="0.6" fill="#1a1a1a"/><circle cx="454.67" cy="456.57" r="0.6" fill="#1a1a1a"/><circle cx="440.93" cy="458.21" r="0.6" fill="#1a1a1a"/><circle cx="438.29" cy="480.89" r="0.6" fill="#1a1a1a"/><g transform="translate(441.4,463.5) rotate(80)"><path d="M-7.5,0 C-3.75,-6.12 3.75,-6.12 7.5,0 C3.75,6.12 -3.75,6.12 -7.5,0Z" fill="#fff" stroke="#1a1a1a" stroke-width="1.35"/><path d="M-5.7,1 Q0,-1.2 4.5,0.8" fill="none" stroke="#1a1a1a" stroke-width="1.2"/></g><g transform="translate(454.6,463.5) rotate(100)"><path d="M-7.5,0 C-3.75,-6.12 3.75,-6.12 7.5,0 C3.75,6.12 -3.75,6.12 -7.5,0Z" fill="#fff" stroke="#1a1a1a" stroke-width="1.35"/><path d="M-5.7,1 Q0,-1.2 4.5,0.8" fill="none" stroke="#1a1a1a" stroke-width="1.2"/></g><g transform="translate(448,453) rotate(90)"><path d="M-4.5,0 C-2.25,-3.4 2.25,-3.4 4.5,0 C2.25,3.4 -2.25,3.4 -4.5,0Z" fill="#fff" stroke="#1a1a1a" stroke-width="1.35"/><path d="M-3.42,1 Q0,-1.2 2.7,0.8" fill="none" stroke="#1a1a1a" stroke-width="1.2"/></g><path d="M463,486.32 L460.5,484.4 L458,486.32 L455.5,484.4 L453,486.32 L450.5,484.4 L448,486.32 L445.5,484.4 L443,486.32 L440.5,484.4 L438,486.32 L435.5,484.4 L433,486.32" fill="none" stroke="#1a1a1a" stroke-width="1.1" stroke-linejoin="round"/>
<path d="M402.5,392 L432.5,362 L432.5,392Z" fill="#fff" stroke="#1a1a1a" stroke-width="1.3"/><circle cx="414.59" cy="390.79" r="0.6" fill="#1a1a1a"/><circle cx="426.14" cy="381.29" r="0.6" fill="#1a1a1a"/><circle cx="431.25" cy="365.87" r="0.6" fill="#1a1a1a"/><circle cx="416.79" cy="385.93" r="0.6" fill="#1a1a1a"/><circle cx="427.04" cy="388.6" r="0.6" fill="#1a1a1a"/><circle cx="430.74" cy="379.33" r="0.6" fill="#1a1a1a"/><circle cx="429.54" cy="373.42" r="0.6" fill="#1a1a1a"/><circle cx="427.75" cy="375.58" r="0.6" fill="#1a1a1a"/><circle cx="410.78" cy="384.78" r="0.6" fill="#1a1a1a"/><g transform="translate(426.5,378.5) rotate(90)"><path d="M-7.24,0 C-3.62,-5.63 3.62,-5.63 7.24,0 C3.62,5.63 -3.62,5.63 -7.24,0Z" fill="#fff" stroke="#1a1a1a" stroke-width="1.35"/><path d="M-5.5,1 Q0,-1.2 4.34,0.8" fill="none" stroke="#1a1a1a" stroke-width="1.2"/></g><g transform="translate(419,386) rotate(0)"><path d="M-7.24,0 C-3.62,-5.63 3.62,-5.63 7.24,0 C3.62,5.63 -3.62,5.63 -7.24,0Z" fill="#fff" stroke="#1a1a1a" stroke-width="1.35"/><path d="M-5.5,1 Q0,-1.2 4.34,0.8" fill="none" stroke="#1a1a1a" stroke-width="1.2"/></g><g transform="translate(426.5,386.9) rotate(45)"><path d="M-4.14,0 C-2.07,-3.52 2.07,-3.52 4.14,0 C2.07,3.52 -2.07,3.52 -4.14,0Z" fill="#fff" stroke="#1a1a1a" stroke-width="1.35"/><path d="M-3.14,1 Q0,-1.2 2.48,0.8" fill="none" stroke="#1a1a1a" stroke-width="1.2"/></g><path d="M402.22,391.72 L405.49,391.84 L405.38,388.56 L408.65,388.68 L408.53,385.4 L411.81,385.52 L411.69,382.24 L414.97,382.36 L414.85,379.09 L418.12,379.2 L418.01,375.93 L421.28,376.05 L421.16,372.77 L424.44,372.89 L424.32,369.61 L427.6,369.73 L427.48,366.45 L430.76,366.57 L430.64,363.3 L433.91,363.41" fill="none" stroke="#1a1a1a" stroke-width="1.1" stroke-linejoin="round"/><path d="M402.5,420 L432.5,450 L432.5,420Z" fill="#fff" stroke="#1a1a1a" stroke-width="1.3"/><circle cx="429.98" cy="423.96" r="0.6" fill="#1a1a1a"/><circle cx="421.75" cy="426.7" r="0.6" fill="#1a1a1a"/><circle cx="422.49" cy="426.18" r="0.6" fill="#1a1a1a"/><circle cx="412.24" cy="426.7" r="0.6" fill="#1a1a1a"/><circle cx="425.77" cy="436.35" r="0.6" fill="#1a1a1a"/><circle cx="421.4" cy="423.55" r="0.6" fill="#1a1a1a"/><circle cx="414.97" cy="428.93" r="0.6" fill="#1a1a1a"/><circle cx="413.69" cy="426.52" r="0.6" fill="#1a1a1a"/><circle cx="423.88" cy="426.7" r="0.6" fill="#1a1a1a"/><g transform="translate(426.5,433.5) rotate(90)"><path d="M-7.24,0 C-3.62,-5.63 3.62,-5.63 7.24,0 C3.62,5.63 -3.62,5.63 -7.24,0Z" fill="#fff" stroke="#1a1a1a" stroke-width="1.35"/><path d="M-5.5,1 Q0,-1.2 4.34,0.8" fill="none" stroke="#1a1a1a" stroke-width="1.2"/></g><g transform="translate(419,426) rotate(0)"><path d="M-7.24,0 C-3.62,-5.63 3.62,-5.63 7.24,0 C3.62,5.63 -3.62,5.63 -7.24,0Z" fill="#fff" stroke="#1a1a1a" stroke-width="1.35"/><path d="M-5.5,1 Q0,-1.2 4.34,0.8" fill="none" stroke="#1a1a1a" stroke-width="1.2"/></g><g transform="translate(426.5,425.1) rotate(-45)"><path d="M-4.14,0 C-2.07,-3.52 2.07,-3.52 4.14,0 C2.07,3.52 -2.07,3.52 -4.14,0Z" fill="#fff" stroke="#1a1a1a" stroke-width="1.35"/><path d="M-3.14,1 Q0,-1.2 2.48,0.8" fill="none" stroke="#1a1a1a" stroke-width="1.2"/></g><path d="M402.78,419.72 L402.66,422.99 L405.94,422.88 L405.82,426.15 L409.1,426.03 L408.98,429.31 L412.26,429.19 L412.14,432.47 L415.41,432.35 L415.3,435.62 L418.57,435.51 L418.45,438.78 L421.73,438.66 L421.61,441.94 L424.89,441.82 L424.77,445.1 L428.05,444.98 L427.93,448.26 L431.2,448.14 L431.09,451.41" fill="none" stroke="#1a1a1a" stroke-width="1.1" stroke-linejoin="round"/><path d="M492.5,392 L462.5,362 L462.5,392Z" fill="#fff" stroke="#1a1a1a" stroke-width="1.3"/><circle cx="463.66" cy="388.25" r="0.6" fill="#1a1a1a"/><circle cx="475.37" cy="385.97" r="0.6" fill="#1a1a1a"/><circle cx="474.87" cy="387.72" r="0.6" fill="#1a1a1a"/><circle cx="463.92" cy="378.44" r="0.6" fill="#1a1a1a"/><circle cx="481.44" cy="388.47" r="0.6" fill="#1a1a1a"/><circle cx="465.99" cy="380.42" r="0.6" fill="#1a1a1a"/><circle cx="473.88" cy="377.12" r="0.6" fill="#1a1a1a"/><circle cx="467.58" cy="370.93" r="0.6" fill="#1a1a1a"/><circle cx="478.09" cy="388.91" r="0.6" fill="#1a1a1a"/><g transform="translate(468.5,378.5) rotate(90)"><path d="M-7.24,0 C-3.62,-5.63 3.62,-5.63 7.24,0 C3.62,5.63 -3.62,5.63 -7.24,0Z" fill="#fff" stroke="#1a1a1a" stroke-width="1.35"/><path d="M-5.5,1 Q0,-1.2 4.34,0.8" fill="none" stroke="#1a1a1a" stroke-width="1.2"/></g><g transform="translate(476,386) rotate(0)"><path d="M-7.24,0 C-3.62,-5.63 3.62,-5.63 7.24,0 C3.62,5.63 -3.62,5.63 -7.24,0Z" fill="#fff" stroke="#1a1a1a" stroke-width="1.35"/><path d="M-5.5,1 Q0,-1.2 4.34,0.8" fill="none" stroke="#1a1a1a" stroke-width="1.2"/></g><g transform="translate(468.5,386.9) rotate(-45)"><path d="M-4.14,0 C-2.07,-3.52 2.07,-3.52 4.14,0 C2.07,3.52 -2.07,3.52 -4.14,0Z" fill="#fff" stroke="#1a1a1a" stroke-width="1.35"/><path d="M-3.14,1 Q0,-1.2 2.48,0.8" fill="none" stroke="#1a1a1a" stroke-width="1.2"/></g><path d="M492.22,392.28 L492.34,389.01 L489.06,389.12 L489.18,385.85 L485.9,385.97 L486.02,382.69 L482.74,382.81 L482.86,379.53 L479.59,379.65 L479.7,376.38 L476.43,376.49 L476.55,373.22 L473.27,373.34 L473.39,370.06 L470.11,370.18 L470.23,366.9 L466.95,367.02 L467.07,363.74 L463.8,363.86 L463.91,360.59" fill="none" stroke="#1a1a1a" stroke-width="1.1" stroke-linejoin="round"/><path d="M492.5,420 L462.5,450 L462.5,420Z" fill="#fff" stroke="#1a1a1a" stroke-width="1.3"/><circle cx="466.55" cy="434.73" r="0.6" fill="#1a1a1a"/><circle cx="469.03" cy="424.55" r="0.6" fill="#1a1a1a"/><circle cx="477.02" cy="422.49" r="0.6" fill="#1a1a1a"/><circle cx="486.59" cy="425.49" r="0.6" fill="#1a1a1a"/><circle cx="469.61" cy="432.19" r="0.6" fill="#1a1a1a"/><circle cx="478" cy="431.74" r="0.6" fill="#1a1a1a"/><circle cx="466.95" cy="427.92" r="0.6" fill="#1a1a1a"/><circle cx="464.65" cy="436.75" r="0.6" fill="#1a1a1a"/><circle cx="484.71" cy="422.07" r="0.6" fill="#1a1a1a"/><g transform="translate(468.5,433.5) rotate(90)"><path d="M-7.24,0 C-3.62,-5.63 3.62,-5.63 7.24,0 C3.62,5.63 -3.62,5.63 -7.24,0Z" fill="#fff" stroke="#1a1a1a" stroke-width="1.35"/><path d="M-5.5,1 Q0,-1.2 4.34,0.8" fill="none" stroke="#1a1a1a" stroke-width="1.2"/></g><g transform="translate(476,426) rotate(0)"><path d="M-7.24,0 C-3.62,-5.63 3.62,-5.63 7.24,0 C3.62,5.63 -3.62,5.63 -7.24,0Z" fill="#fff" stroke="#1a1a1a" stroke-width="1.35"/><path d="M-5.5,1 Q0,-1.2 4.34,0.8" fill="none" stroke="#1a1a1a" stroke-width="1.2"/></g><g transform="translate(468.5,425.1) rotate(45)"><path d="M-4.14,0 C-2.07,-3.52 2.07,-3.52 4.14,0 C2.07,3.52 -2.07,3.52 -4.14,0Z" fill="#fff" stroke="#1a1a1a" stroke-width="1.35"/><path d="M-3.14,1 Q0,-1.2 2.48,0.8" fill="none" stroke="#1a1a1a" stroke-width="1.2"/></g><path d="M492.78,420.28 L489.51,420.16 L489.62,423.44 L486.35,423.32 L486.47,426.6 L483.19,426.48 L483.31,429.76 L480.03,429.64 L480.15,432.91 L476.88,432.8 L476.99,436.07 L473.72,435.95 L473.84,439.23 L470.56,439.11 L470.68,442.39 L467.4,442.27 L467.52,445.55 L464.24,445.43 L464.36,448.7 L461.09,448.59" fill="none" stroke="#1a1a1a" stroke-width="1.1" stroke-linejoin="round"/><rect x="430" y="382" width="35" height="48" fill="#fff" stroke="#1a1a1a" stroke-width="1.6"/><circle cx="458.66" cy="388.42" r="0.6" fill="#1a1a1a"/><circle cx="450.78" cy="408.3" r="0.6" fill="#1a1a1a"/><circle cx="451.69" cy="397.09" r="0.6" fill="#1a1a1a"/><circle cx="444.86" cy="409.8" r="0.6" fill="#1a1a1a"/><circle cx="445.05" cy="413.31" r="0.6" fill="#1a1a1a"/><circle cx="445.74" cy="403.16" r="0.6" fill="#1a1a1a"/><circle cx="431.77" cy="411.47" r="0.6" fill="#1a1a1a"/><circle cx="447.15" cy="393.82" r="0.6" fill="#1a1a1a"/><circle cx="456.2" cy="418.88" r="0.6" fill="#1a1a1a"/><circle cx="446.12" cy="391.26" r="0.6" fill="#1a1a1a"/><circle cx="446.62" cy="387.93" r="0.6" fill="#1a1a1a"/><circle cx="435.24" cy="402.81" r="0.6" fill="#1a1a1a"/><circle cx="434.03" cy="403.33" r="0.6" fill="#1a1a1a"/><circle cx="447.84" cy="384.88" r="0.6" fill="#1a1a1a"/><circle cx="452" cy="386.78" r="0.6" fill="#1a1a1a"/><circle cx="455.2" cy="418.77" r="0.6" fill="#1a1a1a"/><circle cx="447.88" cy="385.5" r="0.6" fill="#1a1a1a"/><circle cx="447.63" cy="400.38" r="0.6" fill="#1a1a1a"/><circle cx="462.38" cy="389.26" r="0.6" fill="#1a1a1a"/><circle cx="459.28" cy="428.82" r="0.6" fill="#1a1a1a"/><circle cx="455.16" cy="420.49" r="0.6" fill="#1a1a1a"/><circle cx="437.39" cy="428.16" r="0.6" fill="#1a1a1a"/><circle cx="447.23" cy="427.01" r="0.6" fill="#1a1a1a"/><circle cx="461.23" cy="390.6" r="0.6" fill="#1a1a1a"/><g transform="translate(439.8,391.6) rotate(-120)"><path d="M-7.5,0 C-3.75,-5.78 3.75,-5.78 7.5,0 C3.75,5.78 -3.75,5.78 -7.5,0Z" fill="#fff" stroke="#1a1a1a" stroke-width="1.35"/><path d="M-5.7,1 Q0,-1.2 4.5,0.8" fill="none" stroke="#1a1a1a" stroke-width="1.2"/></g><g transform="translate(455.2,391.6) rotate(-60)"><path d="M-7.5,0 C-3.75,-5.78 3.75,-5.78 7.5,0 C3.75,5.78 -3.75,5.78 -7.5,0Z" fill="#fff" stroke="#1a1a1a" stroke-width="1.35"/><path d="M-5.7,1 Q0,-1.2 4.5,0.8" fill="none" stroke="#1a1a1a" stroke-width="1.2"/></g><g transform="translate(447.5,399.76) rotate(-90)"><path d="M-5,0 C-2.5,-4.08 2.5,-4.08 5,0 C2.5,4.08 -2.5,4.08 -5,0Z" fill="#fff" stroke="#1a1a1a" stroke-width="1.35"/><path d="M-3.8,1 Q0,-1.2 3,0.8" fill="none" stroke="#1a1a1a" stroke-width="1.2"/></g><g transform="translate(439.8,420.4) rotate(120)"><path d="M-7.5,0 C-3.75,-5.78 3.75,-5.78 7.5,0 C3.75,5.78 -3.75,5.78 -7.5,0Z" fill="#fff" stroke="#1a1a1a" stroke-width="1.35"/><path d="M-5.7,1 Q0,-1.2 4.5,0.8" fill="none" stroke="#1a1a1a" stroke-width="1.2"/></g><g transform="translate(455.2,420.4) rotate(60)"><path d="M-7.5,0 C-3.75,-5.78 3.75,-5.78 7.5,0 C3.75,5.78 -3.75,5.78 -7.5,0Z" fill="#fff" stroke="#1a1a1a" stroke-width="1.35"/><path d="M-5.7,1 Q0,-1.2 4.5,0.8" fill="none" stroke="#1a1a1a" stroke-width="1.2"/></g><g transform="translate(447.5,412.24) rotate(90)"><path d="M-5,0 C-2.5,-4.08 2.5,-4.08 5,0 C2.5,4.08 -2.5,4.08 -5,0Z" fill="#fff" stroke="#1a1a1a" stroke-width="1.35"/><path d="M-3.8,1 Q0,-1.2 3,0.8" fill="none" stroke="#1a1a1a" stroke-width="1.2"/></g><g transform="translate(435.95,398) rotate(20)"><path d="M-6.5,0 C-3.25,-5.1 3.25,-5.1 6.5,0 C3.25,5.1 -3.25,5.1 -6.5,0Z" fill="#fff" stroke="#1a1a1a" stroke-width="1.35"/><path d="M-4.94,1 Q0,-1.2 3.9,0.8" fill="none" stroke="#1a1a1a" stroke-width="1.2"/></g><g transform="translate(435.95,414) rotate(160)"><path d="M-6.5,0 C-3.25,-5.1 3.25,-5.1 6.5,0 C3.25,5.1 -3.25,5.1 -6.5,0Z" fill="#fff" stroke="#1a1a1a" stroke-width="1.35"/><path d="M-4.94,1 Q0,-1.2 3.9,0.8" fill="none" stroke="#1a1a1a" stroke-width="1.2"/></g><g transform="translate(459.05,398) rotate(160)"><path d="M-6.5,0 C-3.25,-5.1 3.25,-5.1 6.5,0 C3.25,5.1 -3.25,5.1 -6.5,0Z" fill="#fff" stroke="#1a1a1a" stroke-width="1.35"/><path d="M-4.94,1 Q0,-1.2 3.9,0.8" fill="none" stroke="#1a1a1a" stroke-width="1.2"/></g><g transform="translate(459.05,414) rotate(20)"><path d="M-6.5,0 C-3.25,-5.1 3.25,-5.1 6.5,0 C3.25,5.1 -3.25,5.1 -6.5,0Z" fill="#fff" stroke="#1a1a1a" stroke-width="1.35"/><path d="M-4.94,1 Q0,-1.2 3.9,0.8" fill="none" stroke="#1a1a1a" stroke-width="1.2"/></g><line x1="430" y1="382" x2="465" y2="430" stroke="#1a1a1a" stroke-width="1.5"/><line x1="430" y1="430" x2="465" y2="382" stroke="#1a1a1a" stroke-width="1.5"/>
<rect x="433.5" y="325.5" width="29" height="4.5" fill="#fff" stroke="none"/><circle cx="455.79" cy="328.83" r="0.6" fill="#1a1a1a"/><circle cx="436.27" cy="327.38" r="0.6" fill="#1a1a1a"/><circle cx="454.92" cy="326.9" r="0.6" fill="#1a1a1a"/><circle cx="458.71" cy="327.19" r="0.6" fill="#1a1a1a"/><circle cx="456.52" cy="326.86" r="0.6" fill="#1a1a1a"/><circle cx="448.06" cy="328.8" r="0.6" fill="#1a1a1a"/><circle cx="440.12" cy="327.16" r="0.6" fill="#1a1a1a"/><circle cx="448.16" cy="327.3" r="0.6" fill="#1a1a1a"/><circle cx="435.49" cy="326.96" r="0.6" fill="#1a1a1a"/><circle cx="438.85" cy="328.84" r="0.6" fill="#1a1a1a"/><circle cx="452.85" cy="328.74" r="0.6" fill="#1a1a1a"/><circle cx="439.06" cy="328.46" r="0.6" fill="#1a1a1a"/><circle cx="437.61" cy="327.83" r="0.6" fill="#1a1a1a"/><path d="M433.5,325.22 L436.14,326.9 L438.77,325.22 L441.41,326.9 L444.05,325.22 L446.68,326.9 L449.32,325.22 L451.95,326.9 L454.59,325.22 L457.23,326.9 L459.86,325.22 L462.5,326.9" fill="none" stroke="#1a1a1a" stroke-width="1.1" stroke-linejoin="round"/><path d="M462.5,330.28 L459.86,328.6 L457.23,330.28 L454.59,328.6 L451.95,330.28 L449.32,328.6 L446.68,330.28 L444.05,328.6 L441.41,330.28 L438.77,328.6 L436.14,330.28 L433.5,328.6" fill="none" stroke="#1a1a1a" stroke-width="1.1" stroke-linejoin="round"/>
<rect x="433.5" y="357" width="29" height="5" fill="#fff" stroke="none"/><circle cx="451.68" cy="359.08" r="0.6" fill="#1a1a1a"/><circle cx="458.07" cy="359.67" r="0.6" fill="#1a1a1a"/><circle cx="450.16" cy="360.65" r="0.6" fill="#1a1a1a"/><circle cx="437.32" cy="360.98" r="0.6" fill="#1a1a1a"/><circle cx="451.5" cy="359.18" r="0.6" fill="#1a1a1a"/><circle cx="456.04" cy="358.79" r="0.6" fill="#1a1a1a"/><circle cx="461.24" cy="359.73" r="0.6" fill="#1a1a1a"/><circle cx="444.23" cy="360.29" r="0.6" fill="#1a1a1a"/><circle cx="446.44" cy="358.53" r="0.6" fill="#1a1a1a"/><circle cx="454.58" cy="358.14" r="0.6" fill="#1a1a1a"/><circle cx="456.64" cy="358.76" r="0.6" fill="#1a1a1a"/><circle cx="451.76" cy="360.95" r="0.6" fill="#1a1a1a"/><circle cx="450.32" cy="359.99" r="0.6" fill="#1a1a1a"/><circle cx="442.94" cy="358.01" r="0.6" fill="#1a1a1a"/><path d="M433.5,356.72 L436.14,358.4 L438.77,356.72 L441.41,358.4 L444.05,356.72 L446.68,358.4 L449.32,356.72 L451.95,358.4 L454.59,356.72 L457.23,358.4 L459.86,356.72 L462.5,358.4" fill="none" stroke="#1a1a1a" stroke-width="1.1" stroke-linejoin="round"/><path d="M462.5,362.28 L459.86,360.6 L457.23,362.28 L454.59,360.6 L451.95,362.28 L449.32,360.6 L446.68,362.28 L444.05,360.6 L441.41,362.28 L438.77,360.6 L436.14,362.28 L433.5,360.6" fill="none" stroke="#1a1a1a" stroke-width="1.1" stroke-linejoin="round"/>
<rect x="373.5" y="392.5" width="4.5" height="26" fill="#fff" stroke="none"/><circle cx="374.58" cy="397.08" r="0.6" fill="#1a1a1a"/><circle cx="376.04" cy="403.87" r="0.6" fill="#1a1a1a"/><circle cx="375.78" cy="414.99" r="0.6" fill="#1a1a1a"/><circle cx="374.83" cy="398.95" r="0.6" fill="#1a1a1a"/><circle cx="376.13" cy="394.03" r="0.6" fill="#1a1a1a"/><circle cx="374.51" cy="402.02" r="0.6" fill="#1a1a1a"/><circle cx="374.77" cy="402.07" r="0.6" fill="#1a1a1a"/><circle cx="375.06" cy="407.51" r="0.6" fill="#1a1a1a"/><circle cx="375.97" cy="398.4" r="0.6" fill="#1a1a1a"/><circle cx="376.06" cy="404.9" r="0.6" fill="#1a1a1a"/><circle cx="374.84" cy="415.98" r="0.6" fill="#1a1a1a"/><path d="M373.22,418.5 L374.9,415.9 L373.22,413.3 L374.9,410.7 L373.22,408.1 L374.9,405.5 L373.22,402.9 L374.9,400.3 L373.22,397.7 L374.9,395.1 L373.22,392.5" fill="none" stroke="#1a1a1a" stroke-width="1.1" stroke-linejoin="round"/><path d="M378.28,392.5 L376.6,395.1 L378.28,397.7 L376.6,400.3 L378.28,402.9 L376.6,405.5 L378.28,408.1 L376.6,410.7 L378.28,413.3 L376.6,415.9 L378.28,418.5" fill="none" stroke="#1a1a1a" stroke-width="1.1" stroke-linejoin="round"/>
<rect x="394" y="392.5" width="8" height="26" fill="#fff" stroke="none"/><circle cx="396.46" cy="397.08" r="0.6" fill="#1a1a1a"/><circle cx="395.57" cy="408.82" r="0.6" fill="#1a1a1a"/><circle cx="400.23" cy="412.27" r="0.6" fill="#1a1a1a"/><circle cx="397.41" cy="399.84" r="0.6" fill="#1a1a1a"/><circle cx="395.07" cy="408.98" r="0.6" fill="#1a1a1a"/><circle cx="398.37" cy="401.91" r="0.6" fill="#1a1a1a"/><circle cx="398.87" cy="404.15" r="0.6" fill="#1a1a1a"/><circle cx="400.62" cy="411.1" r="0.6" fill="#1a1a1a"/><circle cx="396.49" cy="415.18" r="0.6" fill="#1a1a1a"/><circle cx="395.26" cy="406.26" r="0.6" fill="#1a1a1a"/><circle cx="397.44" cy="399.2" r="0.6" fill="#1a1a1a"/><circle cx="395.35" cy="412.19" r="0.6" fill="#1a1a1a"/><circle cx="395.07" cy="406.72" r="0.6" fill="#1a1a1a"/><circle cx="400.65" cy="396.91" r="0.6" fill="#1a1a1a"/><circle cx="396.2" cy="408.09" r="0.6" fill="#1a1a1a"/><circle cx="398.04" cy="408.9" r="0.6" fill="#1a1a1a"/><circle cx="399.88" cy="397.69" r="0.6" fill="#1a1a1a"/><circle cx="396.86" cy="400.71" r="0.6" fill="#1a1a1a"/><circle cx="395.29" cy="414.84" r="0.6" fill="#1a1a1a"/><circle cx="399.7" cy="410.67" r="0.6" fill="#1a1a1a"/><path d="M393.72,418.5 L395.4,415.9 L393.72,413.3 L395.4,410.7 L393.72,408.1 L395.4,405.5 L393.72,402.9 L395.4,400.3 L393.72,397.7 L395.4,395.1 L393.72,392.5" fill="none" stroke="#1a1a1a" stroke-width="1.1" stroke-linejoin="round"/><path d="M402.28,392.5 L400.6,395.1 L402.28,397.7 L400.6,400.3 L402.28,402.9 L400.6,405.5 L402.28,408.1 L400.6,410.7 L402.28,413.3 L400.6,415.9 L402.28,418.5" fill="none" stroke="#1a1a1a" stroke-width="1.1" stroke-linejoin="round"/>
<rect x="492" y="391" width="8" height="28.5" fill="#fff" stroke="none"/><circle cx="493.04" cy="414.38" r="0.6" fill="#1a1a1a"/><circle cx="497.47" cy="404.33" r="0.6" fill="#1a1a1a"/><circle cx="497.45" cy="403.99" r="0.6" fill="#1a1a1a"/><circle cx="494.36" cy="394.79" r="0.6" fill="#1a1a1a"/><circle cx="494.39" cy="393.03" r="0.6" fill="#1a1a1a"/><circle cx="495.01" cy="411.87" r="0.6" fill="#1a1a1a"/><circle cx="497.17" cy="414.4" r="0.6" fill="#1a1a1a"/><circle cx="497.27" cy="399.05" r="0.6" fill="#1a1a1a"/><circle cx="496.32" cy="403.56" r="0.6" fill="#1a1a1a"/><circle cx="497.73" cy="405.87" r="0.6" fill="#1a1a1a"/><circle cx="494.59" cy="409.01" r="0.6" fill="#1a1a1a"/><circle cx="498.79" cy="397.75" r="0.6" fill="#1a1a1a"/><circle cx="498.28" cy="392.4" r="0.6" fill="#1a1a1a"/><circle cx="494.56" cy="398.26" r="0.6" fill="#1a1a1a"/><circle cx="497.46" cy="417.03" r="0.6" fill="#1a1a1a"/><circle cx="497.48" cy="400.66" r="0.6" fill="#1a1a1a"/><circle cx="498.28" cy="400.71" r="0.6" fill="#1a1a1a"/><circle cx="494.44" cy="416.05" r="0.6" fill="#1a1a1a"/><circle cx="496.78" cy="410.36" r="0.6" fill="#1a1a1a"/><circle cx="496.99" cy="417.94" r="0.6" fill="#1a1a1a"/><circle cx="495.82" cy="414.25" r="0.6" fill="#1a1a1a"/><circle cx="497.19" cy="414.72" r="0.6" fill="#1a1a1a"/><path d="M491.72,419.5 L493.4,416.65 L491.72,413.8 L493.4,410.95 L491.72,408.1 L493.4,405.25 L491.72,402.4 L493.4,399.55 L491.72,396.7 L493.4,393.85 L491.72,391" fill="none" stroke="#1a1a1a" stroke-width="1.1" stroke-linejoin="round"/><path d="M500.28,391 L498.6,393.85 L500.28,396.7 L498.6,399.55 L500.28,402.4 L498.6,405.25 L500.28,408.1 L498.6,410.95 L500.28,413.8 L498.6,416.65 L500.28,419.5" fill="none" stroke="#1a1a1a" stroke-width="1.1" stroke-linejoin="round"/>
<rect x="517" y="391" width="4" height="28.5" fill="#fff" stroke="none"/><circle cx="518.87" cy="411.2" r="0.6" fill="#1a1a1a"/><circle cx="519.14" cy="400.16" r="0.6" fill="#1a1a1a"/><circle cx="518.42" cy="408.5" r="0.6" fill="#1a1a1a"/><circle cx="518.16" cy="416.14" r="0.6" fill="#1a1a1a"/><circle cx="518.29" cy="392.71" r="0.6" fill="#1a1a1a"/><circle cx="518.21" cy="416.62" r="0.6" fill="#1a1a1a"/><circle cx="518.69" cy="395.76" r="0.6" fill="#1a1a1a"/><circle cx="518.06" cy="393.1" r="0.6" fill="#1a1a1a"/><circle cx="519.39" cy="408.8" r="0.6" fill="#1a1a1a"/><circle cx="519.39" cy="411.52" r="0.6" fill="#1a1a1a"/><circle cx="518.13" cy="407.65" r="0.6" fill="#1a1a1a"/><path d="M516.72,419.5 L518.4,416.65 L516.72,413.8 L518.4,410.95 L516.72,408.1 L518.4,405.25 L516.72,402.4 L518.4,399.55 L516.72,396.7 L518.4,393.85 L516.72,391" fill="none" stroke="#1a1a1a" stroke-width="1.1" stroke-linejoin="round"/><path d="M521.28,391 L519.6,393.85 L521.28,396.7 L519.6,399.55 L521.28,402.4 L519.6,405.25 L521.28,408.1 L519.6,410.95 L521.28,413.8 L519.6,416.65 L521.28,419.5" fill="none" stroke="#1a1a1a" stroke-width="1.1" stroke-linejoin="round"/>
<rect x="433.5" y="446" width="29" height="5" fill="#fff" stroke="none"/><circle cx="444.31" cy="449.45" r="0.6" fill="#1a1a1a"/><circle cx="456.63" cy="449.67" r="0.6" fill="#1a1a1a"/><circle cx="436.28" cy="449.6" r="0.6" fill="#1a1a1a"/><circle cx="459.19" cy="449.83" r="0.6" fill="#1a1a1a"/><circle cx="437.39" cy="447.62" r="0.6" fill="#1a1a1a"/><circle cx="437.52" cy="447.1" r="0.6" fill="#1a1a1a"/><circle cx="457.39" cy="449.44" r="0.6" fill="#1a1a1a"/><circle cx="451.62" cy="449.48" r="0.6" fill="#1a1a1a"/><circle cx="451.55" cy="447.86" r="0.6" fill="#1a1a1a"/><circle cx="437.2" cy="447.29" r="0.6" fill="#1a1a1a"/><circle cx="454.95" cy="447.61" r="0.6" fill="#1a1a1a"/><circle cx="443.12" cy="448.27" r="0.6" fill="#1a1a1a"/><circle cx="435.06" cy="447.77" r="0.6" fill="#1a1a1a"/><circle cx="442.13" cy="449.15" r="0.6" fill="#1a1a1a"/><path d="M433.5,445.72 L436.14,447.4 L438.77,445.72 L441.41,447.4 L444.05,445.72 L446.68,447.4 L449.32,445.72 L451.95,447.4 L454.59,445.72 L457.23,447.4 L459.86,445.72 L462.5,447.4" fill="none" stroke="#1a1a1a" stroke-width="1.1" stroke-linejoin="round"/><path d="M462.5,451.28 L459.86,449.6 L457.23,451.28 L454.59,449.6 L451.95,451.28 L449.32,449.6 L446.68,451.28 L444.05,449.6 L441.41,451.28 L438.77,449.6 L436.14,451.28 L433.5,449.6" fill="none" stroke="#1a1a1a" stroke-width="1.1" stroke-linejoin="round"/>
<rect x="433.5" y="479" width="29" height="6.5" fill="#fff" stroke="none"/><circle cx="444.44" cy="481.44" r="0.6" fill="#1a1a1a"/><circle cx="460.53" cy="482.27" r="0.6" fill="#1a1a1a"/><circle cx="457.49" cy="482.78" r="0.6" fill="#1a1a1a"/><circle cx="435.34" cy="481.86" r="0.6" fill="#1a1a1a"/><circle cx="446.28" cy="483.48" r="0.6" fill="#1a1a1a"/><circle cx="443.86" cy="483.17" r="0.6" fill="#1a1a1a"/><circle cx="449.02" cy="480.97" r="0.6" fill="#1a1a1a"/><circle cx="457.78" cy="480.41" r="0.6" fill="#1a1a1a"/><circle cx="456.63" cy="480.77" r="0.6" fill="#1a1a1a"/><circle cx="434.54" cy="480.91" r="0.6" fill="#1a1a1a"/><circle cx="455.08" cy="484.4" r="0.6" fill="#1a1a1a"/><circle cx="434.62" cy="482.21" r="0.6" fill="#1a1a1a"/><circle cx="447.77" cy="483.59" r="0.6" fill="#1a1a1a"/><circle cx="439.48" cy="482.23" r="0.6" fill="#1a1a1a"/><circle cx="443.87" cy="483.74" r="0.6" fill="#1a1a1a"/><circle cx="441.54" cy="484.25" r="0.6" fill="#1a1a1a"/><circle cx="442.16" cy="480.97" r="0.6" fill="#1a1a1a"/><circle cx="453.39" cy="482.24" r="0.6" fill="#1a1a1a"/><path d="M433.5,478.72 L436.14,480.4 L438.77,478.72 L441.41,480.4 L444.05,478.72 L446.68,480.4 L449.32,478.72 L451.95,480.4 L454.59,478.72 L457.23,480.4 L459.86,478.72 L462.5,480.4" fill="none" stroke="#1a1a1a" stroke-width="1.1" stroke-linejoin="round"/><path d="M462.5,485.78 L459.86,484.1 L457.23,485.78 L454.59,484.1 L451.95,485.78 L449.32,484.1 L446.68,485.78 L444.05,484.1 L441.41,485.78 L438.77,484.1 L436.14,485.78 L433.5,484.1" fill="none" stroke="#1a1a1a" stroke-width="1.1" stroke-linejoin="round"/>
<path d="M488,385.16 Q488.5,381.75 491.51,382.36 Q494.2,383.83 492.4,386.76 Q494.97,384.47 497.31,386.62 Q498,389.72 494.74,390.81 Q498.18,390.72 497.45,393.67 Q497.13,396.69 493.92,395.42 Q496.62,397.56 494.84,400.15 Q491.98,401.46 490.34,398.43 Q491.03,401.8 488,402.41 Q484.97,401.8 485.66,398.43 Q484.02,401.46 481.78,399.41 Q479.38,397.56 482.08,395.42 Q478.87,396.69 477.28,393.89 Q477.82,390.72 481.26,390.81 Q478,389.72 479.33,387 Q481.03,384.47 483.6,386.76 Q481.8,383.83 484.59,382.63 Q487.5,381.75 488,385.16Z" fill="#fff" stroke="#1a1a1a" stroke-width="1.2" stroke-linejoin="round"/><rect x="486" y="391" width="4" height="4" fill="#fff" stroke="#1a1a1a" stroke-width="1.2"/><circle cx="488" cy="387" r="0.9" fill="#1a1a1a"/>
<line x1="379.75" y1="447" x2="379.75" y2="420" stroke="#1a1a1a" stroke-width="1"/>
<line x1="406.75" y1="473.25" x2="433.75" y2="473.25" stroke="#1a1a1a" stroke-width="1.8"/>
<line x1="413.5" y1="501" x2="446.5" y2="501" stroke="#1a1a1a" stroke-width="1.8"/>
<line x1="433.75" y1="447" x2="433.75" y2="510" stroke="#1a1a1a" stroke-width="1.8"/>
<path d="M379.75,447 L375.5,463.5 L378.5,470 L391,477.5 L406.75,473.25" fill="none" stroke="#1a1a1a" stroke-width="2.2" stroke-linejoin="round"/>
<path d="M379.75,447 L377.3,463.3 L380,468.5 L391,475.3 L406.75,473.25" fill="none" stroke="#1a1a1a" stroke-width="0.8" stroke-linejoin="round"/>
<line x1="380" y1="447" x2="406.75" y2="473.25" stroke="#1a1a1a" stroke-width="1"/>
<line x1="406.75" y1="473.25" x2="406.75" y2="490.5" stroke="#1a1a1a" stroke-width="1"/>
<rect x="405.15" y="471.65" width="3.2" height="3.2" fill="#fff" stroke="#1a1a1a" stroke-width="0.9"/>
<rect x="432.15" y="499.4" width="3.2" height="3.2" fill="#fff" stroke="#1a1a1a" stroke-width="0.9"/>
<rect x="432.15" y="445.4" width="3.2" height="3.2" fill="#fff" stroke="#1a1a1a" stroke-width="0.9"/>
<path d="M403.75,493.8 Q404.28,490.21 407.44,490.85 Q410.28,492.4 408.38,495.48 Q411.09,493.08 413.56,495.34 Q414.28,498.61 410.84,499.75 Q414.47,499.65 413.7,502.75 Q413.36,505.93 409.99,504.6 Q412.83,506.85 410.95,509.58 Q407.94,510.96 406.21,507.77 Q406.94,511.32 403.75,511.96 Q400.56,511.32 401.29,507.77 Q399.56,510.96 397.2,508.8 Q394.67,506.85 397.51,504.6 Q394.14,505.93 392.46,502.99 Q393.03,499.65 396.66,499.75 Q393.22,498.61 394.63,495.73 Q396.41,493.08 399.12,495.48 Q397.22,492.4 400.16,491.14 Q403.22,490.21 403.75,493.8Z" fill="#fff" stroke="#1a1a1a" stroke-width="1.2" stroke-linejoin="round"/><rect x="401.75" y="500" width="4" height="4" fill="#fff" stroke="#1a1a1a" stroke-width="1.2"/><circle cx="403.75" cy="496" r="0.9" fill="#1a1a1a"/>
<line x1="442" y1="489" x2="479.5" y2="526.5" stroke="#1a1a1a" stroke-width="2.3"/><line x1="442" y1="489" x2="479.5" y2="526.5" stroke="#777" stroke-width="0.6"/><circle cx="479.5" cy="526.5" r="1.9" fill="#555" stroke="#1a1a1a" stroke-width="1.4"/>
<line x1="455.5" y1="488" x2="487" y2="519" stroke="#1a1a1a" stroke-width="2.3"/><line x1="455.5" y1="488" x2="487" y2="519" stroke="#777" stroke-width="0.6"/><circle cx="487" cy="519" r="1.9" fill="#555" stroke="#1a1a1a" stroke-width="1.4"/>
<line x1="204.6" y1="466" x2="224" y2="485" stroke="#1a1a1a" stroke-width="1"/>
<path d="M110.7,478 L122.5,463.6 L141.6,466.9" fill="none" stroke="#1a1a1a" stroke-width="2.4" stroke-linejoin="round"/>
<path d="M110.7,478 L122.5,463.6 L141.6,466.9" fill="none" stroke="#888" stroke-width="0.6"/>
<path d="M110.7,478 L114.7,493.8" fill="none" stroke="#1a1a1a" stroke-width="2"/>
<line x1="114.7" y1="494" x2="114.7" y2="521" stroke="#1a1a1a" stroke-width="1.6"/>
<line x1="141.6" y1="466.9" x2="141.6" y2="491" stroke="#1a1a1a" stroke-width="1.3"/>
<rect x="140" y="465.3" width="3.2" height="3.2" fill="#fff" stroke="#1a1a1a" stroke-width="0.9"/>
<rect x="113.1" y="492.2" width="3.2" height="3.2" fill="#fff" stroke="#1a1a1a" stroke-width="0.9"/>
<line x1="115" y1="493" x2="142" y2="466" stroke="#1a1a1a" stroke-width="1"/>
<rect x="115" y="493" width="20" height="28" fill="#fff" stroke="#1a1a1a" stroke-width="1"/>
<rect x="101" y="494" width="14" height="21" fill="#fff" stroke="#1a1a1a" stroke-width="1.5"/><circle cx="103.32" cy="507.09" r="0.6" fill="#1a1a1a"/><circle cx="102.97" cy="509.97" r="0.6" fill="#1a1a1a"/><circle cx="110.37" cy="509.95" r="0.6" fill="#1a1a1a"/><circle cx="109.54" cy="501.76" r="0.6" fill="#1a1a1a"/><circle cx="106.82" cy="502.5" r="0.6" fill="#1a1a1a"/><circle cx="112.68" cy="496.64" r="0.6" fill="#1a1a1a"/><circle cx="112.66" cy="495.48" r="0.6" fill="#1a1a1a"/><circle cx="104.47" cy="500" r="0.6" fill="#1a1a1a"/><circle cx="112.81" cy="504.52" r="0.6" fill="#1a1a1a"/><circle cx="106.55" cy="511.8" r="0.6" fill="#1a1a1a"/><path d="M100.68,515 L102.6,512.38 L100.68,509.75 L102.6,507.12 L100.68,504.5 L102.6,501.88 L100.68,499.25 L102.6,496.62 L100.68,494" fill="none" stroke="#1a1a1a" stroke-width="1.1" stroke-linejoin="round"/><path d="M101,493.68 L103.8,495.6 L106.6,493.68 L109.4,495.6 L112.2,493.68 L115,495.6" fill="none" stroke="#1a1a1a" stroke-width="1.1" stroke-linejoin="round"/>
<rect x="142" y="457" width="27" height="9" fill="#fff" stroke="#1a1a1a" stroke-width="1.3"/><circle cx="148.84" cy="461.23" r="0.6" fill="#1a1a1a"/><circle cx="156.29" cy="463.28" r="0.6" fill="#1a1a1a"/><circle cx="161.82" cy="462.52" r="0.6" fill="#1a1a1a"/><circle cx="151.71" cy="460.29" r="0.6" fill="#1a1a1a"/><circle cx="146.88" cy="463.9" r="0.6" fill="#1a1a1a"/><circle cx="159.55" cy="463.19" r="0.6" fill="#1a1a1a"/><circle cx="147.24" cy="461.07" r="0.6" fill="#1a1a1a"/><circle cx="162.34" cy="462.05" r="0.6" fill="#1a1a1a"/><circle cx="146.15" cy="461.23" r="0.6" fill="#1a1a1a"/><circle cx="165.13" cy="459.67" r="0.6" fill="#1a1a1a"/><circle cx="147.79" cy="460.11" r="0.6" fill="#1a1a1a"/><circle cx="160.58" cy="463.91" r="0.6" fill="#1a1a1a"/><circle cx="146.86" cy="459.09" r="0.6" fill="#1a1a1a"/><circle cx="149.19" cy="460.29" r="0.6" fill="#1a1a1a"/><circle cx="156.05" cy="459.13" r="0.6" fill="#1a1a1a"/><circle cx="151.2" cy="459.32" r="0.6" fill="#1a1a1a"/><circle cx="167.38" cy="463.1" r="0.6" fill="#1a1a1a"/><circle cx="145.55" cy="464.74" r="0.6" fill="#1a1a1a"/><circle cx="145.54" cy="460.69" r="0.6" fill="#1a1a1a"/><circle cx="167.6" cy="463.56" r="0.6" fill="#1a1a1a"/><circle cx="161.33" cy="461.04" r="0.6" fill="#1a1a1a"/><circle cx="147.9" cy="462.47" r="0.6" fill="#1a1a1a"/><circle cx="145.67" cy="459.45" r="0.6" fill="#1a1a1a"/><circle cx="152.71" cy="458.24" r="0.6" fill="#1a1a1a"/><circle cx="152.98" cy="463.54" r="0.6" fill="#1a1a1a"/><circle cx="160.34" cy="461.5" r="0.6" fill="#1a1a1a"/><circle cx="158.81" cy="461.24" r="0.6" fill="#1a1a1a"/><circle cx="146.55" cy="462.23" r="0.6" fill="#1a1a1a"/><circle cx="153.12" cy="463.19" r="0.6" fill="#1a1a1a"/><circle cx="165.7" cy="461.01" r="0.6" fill="#1a1a1a"/><circle cx="157.35" cy="463.24" r="0.6" fill="#1a1a1a"/><circle cx="153.53" cy="459.6" r="0.6" fill="#1a1a1a"/><circle cx="161.06" cy="464.16" r="0.6" fill="#1a1a1a"/><circle cx="162.35" cy="462.9" r="0.6" fill="#1a1a1a"/><circle cx="164.31" cy="462.76" r="0.6" fill="#1a1a1a"/><circle cx="159.04" cy="461.18" r="0.6" fill="#1a1a1a"/><circle cx="150.83" cy="462.4" r="0.6" fill="#1a1a1a"/><circle cx="145.45" cy="460.94" r="0.6" fill="#1a1a1a"/><circle cx="162.56" cy="462.99" r="0.6" fill="#1a1a1a"/><circle cx="158.74" cy="459.75" r="0.6" fill="#1a1a1a"/><rect x="143.5" y="458.5" width="24" height="6" fill="none" stroke="#1a1a1a" stroke-width="0.6"/>
<line x1="142" y1="448" x2="142" y2="468" stroke="#1a1a1a" stroke-width="1.6"/>
<line x1="169" y1="448" x2="169" y2="468" stroke="#1a1a1a" stroke-width="1.6"/>
<path d="M116,522 C116,535 125,540 135,536 C143,533 140,524 135,521" fill="none" stroke="#1a1a1a" stroke-width="1.1"/>
<path d="M121,535 a5,4 0 1,0 10,0 a5,4 0 1,0 -10,0" fill="none" stroke="#1a1a1a" stroke-width="1"/>
<rect x="135" y="493" width="24" height="30" fill="#fff" stroke="#1a1a1a" stroke-width="1.5"/><circle cx="145.32" cy="506.75" r="0.6" fill="#1a1a1a"/><circle cx="149.67" cy="505.46" r="0.6" fill="#1a1a1a"/><circle cx="150.86" cy="520.05" r="0.6" fill="#1a1a1a"/><circle cx="140.03" cy="512.33" r="0.6" fill="#1a1a1a"/><circle cx="153.12" cy="504.88" r="0.6" fill="#1a1a1a"/><circle cx="146.78" cy="521.29" r="0.6" fill="#1a1a1a"/><circle cx="136.84" cy="509.21" r="0.6" fill="#1a1a1a"/><circle cx="139.54" cy="515.89" r="0.6" fill="#1a1a1a"/><circle cx="156.69" cy="508.54" r="0.6" fill="#1a1a1a"/><circle cx="138.22" cy="510.09" r="0.6" fill="#1a1a1a"/><circle cx="147.9" cy="514.08" r="0.6" fill="#1a1a1a"/><circle cx="147.27" cy="511.9" r="0.6" fill="#1a1a1a"/><circle cx="154.24" cy="508.61" r="0.6" fill="#1a1a1a"/><g transform="translate(145.8,501.4) rotate(-15)"><path d="M-7.5,0 C-3.75,-6.12 3.75,-6.12 7.5,0 C3.75,6.12 -3.75,6.12 -7.5,0Z" fill="#fff" stroke="#1a1a1a" stroke-width="1.35"/><path d="M-5.7,1 Q0,-1.2 4.5,0.8" fill="none" stroke="#1a1a1a" stroke-width="1.2"/></g><g transform="translate(145.8,514.6) rotate(15)"><path d="M-7.5,0 C-3.75,-6.12 3.75,-6.12 7.5,0 C3.75,6.12 -3.75,6.12 -7.5,0Z" fill="#fff" stroke="#1a1a1a" stroke-width="1.35"/><path d="M-5.7,1 Q0,-1.2 4.5,0.8" fill="none" stroke="#1a1a1a" stroke-width="1.2"/></g><path d="M134.68,523 L136.6,520.5 L134.68,518 L136.6,515.5 L134.68,513 L136.6,510.5 L134.68,508 L136.6,505.5 L134.68,503 L136.6,500.5 L134.68,498 L136.6,495.5 L134.68,493" fill="none" stroke="#1a1a1a" stroke-width="1.1" stroke-linejoin="round"/>
<rect x="208" y="493" width="21" height="30" fill="#fff" stroke="#1a1a1a" stroke-width="1.5"/><circle cx="216.8" cy="520.54" r="0.6" fill="#1a1a1a"/><circle cx="212.99" cy="513.16" r="0.6" fill="#1a1a1a"/><circle cx="216.46" cy="515.36" r="0.6" fill="#1a1a1a"/><circle cx="211.33" cy="521.57" r="0.6" fill="#1a1a1a"/><circle cx="215.75" cy="495.59" r="0.6" fill="#1a1a1a"/><circle cx="214.21" cy="505.19" r="0.6" fill="#1a1a1a"/><circle cx="209.25" cy="505.72" r="0.6" fill="#1a1a1a"/><circle cx="216.99" cy="513.55" r="0.6" fill="#1a1a1a"/><circle cx="215.69" cy="501.42" r="0.6" fill="#1a1a1a"/><circle cx="213.26" cy="514.76" r="0.6" fill="#1a1a1a"/><circle cx="226.86" cy="508.76" r="0.6" fill="#1a1a1a"/><g transform="translate(216.82,501.4) rotate(-15)"><path d="M-7.5,0 C-3.75,-6.12 3.75,-6.12 7.5,0 C3.75,6.12 -3.75,6.12 -7.5,0Z" fill="#fff" stroke="#1a1a1a" stroke-width="1.35"/><path d="M-5.7,1 Q0,-1.2 4.5,0.8" fill="none" stroke="#1a1a1a" stroke-width="1.2"/></g><g transform="translate(216.82,514.6) rotate(15)"><path d="M-7.5,0 C-3.75,-6.12 3.75,-6.12 7.5,0 C3.75,6.12 -3.75,6.12 -7.5,0Z" fill="#fff" stroke="#1a1a1a" stroke-width="1.35"/><path d="M-5.7,1 Q0,-1.2 4.5,0.8" fill="none" stroke="#1a1a1a" stroke-width="1.2"/></g><path d="M229.32,493 L227.4,495.5 L229.32,498 L227.4,500.5 L229.32,503 L227.4,505.5 L229.32,508 L227.4,510.5 L229.32,513 L227.4,515.5 L229.32,518 L227.4,520.5 L229.32,523" fill="none" stroke="#1a1a1a" stroke-width="1.1" stroke-linejoin="round"/>
<path d="M225.5,493 L198.5,466 L198.5,493Z" fill="#fff" stroke="#1a1a1a" stroke-width="1.3"/><circle cx="204.97" cy="487.04" r="0.6" fill="#1a1a1a"/><circle cx="202.73" cy="486.42" r="0.6" fill="#1a1a1a"/><circle cx="211.23" cy="481.05" r="0.6" fill="#1a1a1a"/><circle cx="205.15" cy="491.1" r="0.6" fill="#1a1a1a"/><circle cx="208.33" cy="482.97" r="0.6" fill="#1a1a1a"/><circle cx="199.57" cy="485.04" r="0.6" fill="#1a1a1a"/><circle cx="207.05" cy="478.99" r="0.6" fill="#1a1a1a"/><g transform="translate(203.9,480.85) rotate(90)"><path d="M-6.52,0 C-3.26,-5.06 3.26,-5.06 6.52,0 C3.26,5.06 -3.26,5.06 -6.52,0Z" fill="#fff" stroke="#1a1a1a" stroke-width="1.35"/><path d="M-4.95,1 Q0,-1.2 3.91,0.8" fill="none" stroke="#1a1a1a" stroke-width="1.2"/></g><g transform="translate(210.65,487.6) rotate(0)"><path d="M-6.52,0 C-3.26,-5.06 3.26,-5.06 6.52,0 C3.26,5.06 -3.26,5.06 -6.52,0Z" fill="#fff" stroke="#1a1a1a" stroke-width="1.35"/><path d="M-4.95,1 Q0,-1.2 3.91,0.8" fill="none" stroke="#1a1a1a" stroke-width="1.2"/></g><g transform="translate(203.9,488.41) rotate(-45)"><path d="M-3.72,0 C-1.86,-3.17 1.86,-3.17 3.72,0 C1.86,3.17 -1.86,3.17 -3.72,0Z" fill="#fff" stroke="#1a1a1a" stroke-width="1.35"/><path d="M-2.83,1 Q0,-1.2 2.23,0.8" fill="none" stroke="#1a1a1a" stroke-width="1.2"/></g><path d="M225.22,493.28 L225.33,490 L222.04,490.11 L222.15,486.82 L218.86,486.93 L218.97,483.64 L215.69,483.75 L215.8,480.47 L212.51,480.58 L212.62,477.29 L209.33,477.4 L209.44,474.12 L206.16,474.22 L206.27,470.94 L202.98,471.05 L203.09,467.76 L199.81,467.87 L199.91,464.59" fill="none" stroke="#1a1a1a" stroke-width="1.1" stroke-linejoin="round"/><path d="M225.5,522 L198.5,549 L198.5,522Z" fill="#fff" stroke="#1a1a1a" stroke-width="1.3"/><circle cx="200.93" cy="543.7" r="0.6" fill="#1a1a1a"/><circle cx="203.01" cy="543.78" r="0.6" fill="#1a1a1a"/><circle cx="215.33" cy="523.37" r="0.6" fill="#1a1a1a"/><circle cx="199.79" cy="546.79" r="0.6" fill="#1a1a1a"/><circle cx="215.9" cy="529.25" r="0.6" fill="#1a1a1a"/><circle cx="202.04" cy="526.57" r="0.6" fill="#1a1a1a"/><circle cx="208.16" cy="526.82" r="0.6" fill="#1a1a1a"/><g transform="translate(203.9,534.15) rotate(90)"><path d="M-6.52,0 C-3.26,-5.06 3.26,-5.06 6.52,0 C3.26,5.06 -3.26,5.06 -6.52,0Z" fill="#fff" stroke="#1a1a1a" stroke-width="1.35"/><path d="M-4.95,1 Q0,-1.2 3.91,0.8" fill="none" stroke="#1a1a1a" stroke-width="1.2"/></g><g transform="translate(210.65,527.4) rotate(0)"><path d="M-6.52,0 C-3.26,-5.06 3.26,-5.06 6.52,0 C3.26,5.06 -3.26,5.06 -6.52,0Z" fill="#fff" stroke="#1a1a1a" stroke-width="1.35"/><path d="M-4.95,1 Q0,-1.2 3.91,0.8" fill="none" stroke="#1a1a1a" stroke-width="1.2"/></g><g transform="translate(203.9,526.59) rotate(45)"><path d="M-3.72,0 C-1.86,-3.17 1.86,-3.17 3.72,0 C1.86,3.17 -1.86,3.17 -3.72,0Z" fill="#fff" stroke="#1a1a1a" stroke-width="1.35"/><path d="M-2.83,1 Q0,-1.2 2.23,0.8" fill="none" stroke="#1a1a1a" stroke-width="1.2"/></g><path d="M225.78,522.28 L222.5,522.17 L222.61,525.46 L219.32,525.35 L219.43,528.64 L216.14,528.53 L216.25,531.81 L212.97,531.7 L213.08,534.99 L209.79,534.88 L209.9,538.17 L206.62,538.06 L206.72,541.34 L203.44,541.23 L203.55,544.52 L200.26,544.41 L200.37,547.69 L197.09,547.59" fill="none" stroke="#1a1a1a" stroke-width="1.1" stroke-linejoin="round"/><path d="M141.5,522 L168.5,549 L168.5,522Z" fill="#fff" stroke="#1a1a1a" stroke-width="1.3"/><circle cx="165.1" cy="542.79" r="0.6" fill="#1a1a1a"/><circle cx="156.38" cy="529.61" r="0.6" fill="#1a1a1a"/><circle cx="148.35" cy="526.48" r="0.6" fill="#1a1a1a"/><circle cx="154.83" cy="524.46" r="0.6" fill="#1a1a1a"/><circle cx="154.18" cy="526.61" r="0.6" fill="#1a1a1a"/><circle cx="166.52" cy="524.88" r="0.6" fill="#1a1a1a"/><circle cx="158.43" cy="538.9" r="0.6" fill="#1a1a1a"/><g transform="translate(163.1,534.15) rotate(90)"><path d="M-6.52,0 C-3.26,-5.06 3.26,-5.06 6.52,0 C3.26,5.06 -3.26,5.06 -6.52,0Z" fill="#fff" stroke="#1a1a1a" stroke-width="1.35"/><path d="M-4.95,1 Q0,-1.2 3.91,0.8" fill="none" stroke="#1a1a1a" stroke-width="1.2"/></g><g transform="translate(156.35,527.4) rotate(0)"><path d="M-6.52,0 C-3.26,-5.06 3.26,-5.06 6.52,0 C3.26,5.06 -3.26,5.06 -6.52,0Z" fill="#fff" stroke="#1a1a1a" stroke-width="1.35"/><path d="M-4.95,1 Q0,-1.2 3.91,0.8" fill="none" stroke="#1a1a1a" stroke-width="1.2"/></g><g transform="translate(163.1,526.59) rotate(-45)"><path d="M-3.72,0 C-1.86,-3.17 1.86,-3.17 3.72,0 C1.86,3.17 -1.86,3.17 -3.72,0Z" fill="#fff" stroke="#1a1a1a" stroke-width="1.35"/><path d="M-2.83,1 Q0,-1.2 2.23,0.8" fill="none" stroke="#1a1a1a" stroke-width="1.2"/></g><path d="M141.78,521.72 L141.67,525 L144.96,524.89 L144.85,528.18 L148.14,528.07 L148.03,531.36 L151.31,531.25 L151.2,534.53 L154.49,534.42 L154.38,537.71 L157.67,537.6 L157.56,540.88 L160.84,540.78 L160.73,544.06 L164.02,543.95 L163.91,547.24 L167.19,547.13 L167.09,550.41" fill="none" stroke="#1a1a1a" stroke-width="1.1" stroke-linejoin="round"/><path d="M141.5,493 L168.5,466 L168.5,493Z" fill="#fff" stroke="#1a1a1a" stroke-width="1.3"/><circle cx="159.56" cy="490.29" r="0.6" fill="#1a1a1a"/><circle cx="150.76" cy="491.54" r="0.6" fill="#1a1a1a"/><circle cx="160.45" cy="482.63" r="0.6" fill="#1a1a1a"/><circle cx="150.97" cy="488.54" r="0.6" fill="#1a1a1a"/><circle cx="155.64" cy="486.26" r="0.6" fill="#1a1a1a"/><circle cx="163.17" cy="474.32" r="0.6" fill="#1a1a1a"/><circle cx="163.19" cy="477.09" r="0.6" fill="#1a1a1a"/><g transform="translate(163.1,480.85) rotate(90)"><path d="M-6.52,0 C-3.26,-5.06 3.26,-5.06 6.52,0 C3.26,5.06 -3.26,5.06 -6.52,0Z" fill="#fff" stroke="#1a1a1a" stroke-width="1.35"/><path d="M-4.95,1 Q0,-1.2 3.91,0.8" fill="none" stroke="#1a1a1a" stroke-width="1.2"/></g><g transform="translate(156.35,487.6) rotate(0)"><path d="M-6.52,0 C-3.26,-5.06 3.26,-5.06 6.52,0 C3.26,5.06 -3.26,5.06 -6.52,0Z" fill="#fff" stroke="#1a1a1a" stroke-width="1.35"/><path d="M-4.95,1 Q0,-1.2 3.91,0.8" fill="none" stroke="#1a1a1a" stroke-width="1.2"/></g><g transform="translate(163.1,488.41) rotate(45)"><path d="M-3.72,0 C-1.86,-3.17 1.86,-3.17 3.72,0 C1.86,3.17 -1.86,3.17 -3.72,0Z" fill="#fff" stroke="#1a1a1a" stroke-width="1.35"/><path d="M-2.83,1 Q0,-1.2 2.23,0.8" fill="none" stroke="#1a1a1a" stroke-width="1.2"/></g><path d="M141.22,492.72 L144.5,492.83 L144.39,489.54 L147.68,489.65 L147.57,486.36 L150.86,486.47 L150.75,483.19 L154.03,483.3 L153.92,480.01 L157.21,480.12 L157.1,476.83 L160.38,476.94 L160.28,473.66 L163.56,473.77 L163.45,470.48 L166.74,470.59 L166.63,467.31 L169.91,467.41" fill="none" stroke="#1a1a1a" stroke-width="1.1" stroke-linejoin="round"/><rect x="168.5" y="461.5" width="30" height="29" fill="#fff" stroke="#1a1a1a" stroke-width="1.5"/><circle cx="183.6" cy="469.84" r="0.6" fill="#1a1a1a"/><circle cx="183.68" cy="488.82" r="0.6" fill="#1a1a1a"/><circle cx="187.83" cy="483.88" r="0.6" fill="#1a1a1a"/><circle cx="178.77" cy="471.06" r="0.6" fill="#1a1a1a"/><circle cx="177.88" cy="478.33" r="0.6" fill="#1a1a1a"/><circle cx="187.27" cy="483.67" r="0.6" fill="#1a1a1a"/><circle cx="170.62" cy="482.01" r="0.6" fill="#1a1a1a"/><circle cx="194.3" cy="477.23" r="0.6" fill="#1a1a1a"/><circle cx="170.89" cy="470.61" r="0.6" fill="#1a1a1a"/><circle cx="169.67" cy="467.63" r="0.6" fill="#1a1a1a"/><circle cx="195.3" cy="478.93" r="0.6" fill="#1a1a1a"/><circle cx="187.92" cy="483.8" r="0.6" fill="#1a1a1a"/><circle cx="194.98" cy="479.02" r="0.6" fill="#1a1a1a"/><circle cx="186.77" cy="479.42" r="0.6" fill="#1a1a1a"/><circle cx="189" cy="478.6" r="0.6" fill="#1a1a1a"/><g transform="translate(176.9,473.1) rotate(80)"><path d="M-7.5,0 C-3.75,-6.12 3.75,-6.12 7.5,0 C3.75,6.12 -3.75,6.12 -7.5,0Z" fill="#fff" stroke="#1a1a1a" stroke-width="1.35"/><path d="M-5.7,1 Q0,-1.2 4.5,0.8" fill="none" stroke="#1a1a1a" stroke-width="1.2"/></g><g transform="translate(190.1,473.1) rotate(100)"><path d="M-7.5,0 C-3.75,-6.12 3.75,-6.12 7.5,0 C3.75,6.12 -3.75,6.12 -7.5,0Z" fill="#fff" stroke="#1a1a1a" stroke-width="1.35"/><path d="M-5.7,1 Q0,-1.2 4.5,0.8" fill="none" stroke="#1a1a1a" stroke-width="1.2"/></g><g transform="translate(183.5,484.7) rotate(90)"><path d="M-5,0 C-2.5,-4.08 2.5,-4.08 5,0 C2.5,4.08 -2.5,4.08 -5,0Z" fill="#fff" stroke="#1a1a1a" stroke-width="1.35"/><path d="M-3.8,1 Q0,-1.2 3,0.8" fill="none" stroke="#1a1a1a" stroke-width="1.2"/></g><path d="M168.5,461.18 L171,463.1 L173.5,461.18 L176,463.1 L178.5,461.18 L181,463.1 L183.5,461.18 L186,463.1 L188.5,461.18 L191,463.1 L193.5,461.18 L196,463.1 L198.5,461.18" fill="none" stroke="#1a1a1a" stroke-width="1.1" stroke-linejoin="round"/><rect x="168.5" y="524.5" width="30" height="29" fill="#fff" stroke="#1a1a1a" stroke-width="1.5"/><circle cx="188.57" cy="531.24" r="0.6" fill="#1a1a1a"/><circle cx="188.18" cy="537.86" r="0.6" fill="#1a1a1a"/><circle cx="190.85" cy="528.24" r="0.6" fill="#1a1a1a"/><circle cx="174.58" cy="526.5" r="0.6" fill="#1a1a1a"/><circle cx="191.19" cy="550.18" r="0.6" fill="#1a1a1a"/><circle cx="187.86" cy="535.46" r="0.6" fill="#1a1a1a"/><circle cx="192.53" cy="546.74" r="0.6" fill="#1a1a1a"/><circle cx="185.24" cy="532.47" r="0.6" fill="#1a1a1a"/><circle cx="177.96" cy="536.89" r="0.6" fill="#1a1a1a"/><circle cx="178.42" cy="537.13" r="0.6" fill="#1a1a1a"/><circle cx="187.47" cy="550.71" r="0.6" fill="#1a1a1a"/><circle cx="171.03" cy="540.82" r="0.6" fill="#1a1a1a"/><circle cx="170.6" cy="528.71" r="0.6" fill="#1a1a1a"/><circle cx="192.19" cy="541.03" r="0.6" fill="#1a1a1a"/><circle cx="195.22" cy="537.55" r="0.6" fill="#1a1a1a"/><g transform="translate(176.9,542.48) rotate(80)"><path d="M-7.5,0 C-3.75,-6.12 3.75,-6.12 7.5,0 C3.75,6.12 -3.75,6.12 -7.5,0Z" fill="#fff" stroke="#1a1a1a" stroke-width="1.35"/><path d="M-5.7,1 Q0,-1.2 4.5,0.8" fill="none" stroke="#1a1a1a" stroke-width="1.2"/></g><g transform="translate(190.1,542.48) rotate(100)"><path d="M-7.5,0 C-3.75,-6.12 3.75,-6.12 7.5,0 C3.75,6.12 -3.75,6.12 -7.5,0Z" fill="#fff" stroke="#1a1a1a" stroke-width="1.35"/><path d="M-5.7,1 Q0,-1.2 4.5,0.8" fill="none" stroke="#1a1a1a" stroke-width="1.2"/></g><g transform="translate(183.5,530.3) rotate(90)"><path d="M-5,0 C-2.5,-4.08 2.5,-4.08 5,0 C2.5,4.08 -2.5,4.08 -5,0Z" fill="#fff" stroke="#1a1a1a" stroke-width="1.35"/><path d="M-3.8,1 Q0,-1.2 3,0.8" fill="none" stroke="#1a1a1a" stroke-width="1.2"/></g><path d="M198.5,553.82 L196,551.9 L193.5,553.82 L191,551.9 L188.5,553.82 L186,551.9 L183.5,553.82 L181,551.9 L178.5,553.82 L176,551.9 L173.5,553.82 L171,551.9 L168.5,553.82" fill="none" stroke="#1a1a1a" stroke-width="1.1" stroke-linejoin="round"/><rect x="159" y="490.5" width="49" height="34" fill="#fff" stroke="#1a1a1a" stroke-width="1.6"/><circle cx="160.66" cy="503.89" r="0.6" fill="#1a1a1a"/><circle cx="187.82" cy="521.51" r="0.6" fill="#1a1a1a"/><circle cx="206.1" cy="506.71" r="0.6" fill="#1a1a1a"/><circle cx="179.38" cy="494.77" r="0.6" fill="#1a1a1a"/><circle cx="190.29" cy="498.29" r="0.6" fill="#1a1a1a"/><circle cx="167.13" cy="492" r="0.6" fill="#1a1a1a"/><circle cx="160.22" cy="513.38" r="0.6" fill="#1a1a1a"/><circle cx="165.72" cy="522.42" r="0.6" fill="#1a1a1a"/><circle cx="164.14" cy="519.33" r="0.6" fill="#1a1a1a"/><circle cx="166.06" cy="492.07" r="0.6" fill="#1a1a1a"/><circle cx="193.81" cy="499.25" r="0.6" fill="#1a1a1a"/><circle cx="194.48" cy="497.5" r="0.6" fill="#1a1a1a"/><circle cx="162.36" cy="516.27" r="0.6" fill="#1a1a1a"/><circle cx="193.54" cy="518.88" r="0.6" fill="#1a1a1a"/><circle cx="194.3" cy="494.2" r="0.6" fill="#1a1a1a"/><circle cx="189.55" cy="514.2" r="0.6" fill="#1a1a1a"/><circle cx="181.65" cy="521.34" r="0.6" fill="#1a1a1a"/><circle cx="171.94" cy="522.36" r="0.6" fill="#1a1a1a"/><circle cx="193.71" cy="491.86" r="0.6" fill="#1a1a1a"/><circle cx="160.69" cy="512.32" r="0.6" fill="#1a1a1a"/><circle cx="198.42" cy="494.05" r="0.6" fill="#1a1a1a"/><circle cx="174.62" cy="514.84" r="0.6" fill="#1a1a1a"/><circle cx="167.8" cy="519.05" r="0.6" fill="#1a1a1a"/><g transform="translate(168.8,500.02) rotate(210)"><path d="M-7.5,0 C-3.75,-5.78 3.75,-5.78 7.5,0 C3.75,5.78 -3.75,5.78 -7.5,0Z" fill="#fff" stroke="#1a1a1a" stroke-width="1.35"/><path d="M-5.7,1 Q0,-1.2 4.5,0.8" fill="none" stroke="#1a1a1a" stroke-width="1.2"/></g><g transform="translate(168.8,514.98) rotate(150)"><path d="M-7.5,0 C-3.75,-5.78 3.75,-5.78 7.5,0 C3.75,5.78 -3.75,5.78 -7.5,0Z" fill="#fff" stroke="#1a1a1a" stroke-width="1.35"/><path d="M-5.7,1 Q0,-1.2 4.5,0.8" fill="none" stroke="#1a1a1a" stroke-width="1.2"/></g><g transform="translate(177.13,507.5) rotate(180)"><path d="M-5,0 C-2.5,-4.08 2.5,-4.08 5,0 C2.5,4.08 -2.5,4.08 -5,0Z" fill="#fff" stroke="#1a1a1a" stroke-width="1.35"/><path d="M-3.8,1 Q0,-1.2 3,0.8" fill="none" stroke="#1a1a1a" stroke-width="1.2"/></g><g transform="translate(198.2,500.02) rotate(-30)"><path d="M-7.5,0 C-3.75,-5.78 3.75,-5.78 7.5,0 C3.75,5.78 -3.75,5.78 -7.5,0Z" fill="#fff" stroke="#1a1a1a" stroke-width="1.35"/><path d="M-5.7,1 Q0,-1.2 4.5,0.8" fill="none" stroke="#1a1a1a" stroke-width="1.2"/></g><g transform="translate(198.2,514.98) rotate(30)"><path d="M-7.5,0 C-3.75,-5.78 3.75,-5.78 7.5,0 C3.75,5.78 -3.75,5.78 -7.5,0Z" fill="#fff" stroke="#1a1a1a" stroke-width="1.35"/><path d="M-5.7,1 Q0,-1.2 4.5,0.8" fill="none" stroke="#1a1a1a" stroke-width="1.2"/></g><g transform="translate(189.87,507.5) rotate(0)"><path d="M-5,0 C-2.5,-4.08 2.5,-4.08 5,0 C2.5,4.08 -2.5,4.08 -5,0Z" fill="#fff" stroke="#1a1a1a" stroke-width="1.35"/><path d="M-3.8,1 Q0,-1.2 3,0.8" fill="none" stroke="#1a1a1a" stroke-width="1.2"/></g><g transform="translate(175.5,496.28) rotate(200)"><path d="M-6.5,0 C-3.25,-5.1 3.25,-5.1 6.5,0 C3.25,5.1 -3.25,5.1 -6.5,0Z" fill="#fff" stroke="#1a1a1a" stroke-width="1.35"/><path d="M-4.94,1 Q0,-1.2 3.9,0.8" fill="none" stroke="#1a1a1a" stroke-width="1.2"/></g><g transform="translate(191.5,496.28) rotate(-20)"><path d="M-6.5,0 C-3.25,-5.1 3.25,-5.1 6.5,0 C3.25,5.1 -3.25,5.1 -6.5,0Z" fill="#fff" stroke="#1a1a1a" stroke-width="1.35"/><path d="M-4.94,1 Q0,-1.2 3.9,0.8" fill="none" stroke="#1a1a1a" stroke-width="1.2"/></g><g transform="translate(175.5,518.72) rotate(160)"><path d="M-6.5,0 C-3.25,-5.1 3.25,-5.1 6.5,0 C3.25,5.1 -3.25,5.1 -6.5,0Z" fill="#fff" stroke="#1a1a1a" stroke-width="1.35"/><path d="M-4.94,1 Q0,-1.2 3.9,0.8" fill="none" stroke="#1a1a1a" stroke-width="1.2"/></g><g transform="translate(191.5,518.72) rotate(20)"><path d="M-6.5,0 C-3.25,-5.1 3.25,-5.1 6.5,0 C3.25,5.1 -3.25,5.1 -6.5,0Z" fill="#fff" stroke="#1a1a1a" stroke-width="1.35"/><path d="M-4.94,1 Q0,-1.2 3.9,0.8" fill="none" stroke="#1a1a1a" stroke-width="1.2"/></g><line x1="159" y1="490.5" x2="208" y2="524.5" stroke="#1a1a1a" stroke-width="1.5"/><line x1="159" y1="524.5" x2="208" y2="490.5" stroke="#1a1a1a" stroke-width="1.5"/>
<rect x="168.5" y="453.5" width="29" height="5.5" fill="#fff" stroke="none"/><circle cx="182.63" cy="454.71" r="0.6" fill="#1a1a1a"/><circle cx="179.42" cy="456.51" r="0.6" fill="#1a1a1a"/><circle cx="181.35" cy="456.87" r="0.6" fill="#1a1a1a"/><circle cx="173.41" cy="457.29" r="0.6" fill="#1a1a1a"/><circle cx="179.31" cy="456.76" r="0.6" fill="#1a1a1a"/><circle cx="186.5" cy="455.96" r="0.6" fill="#1a1a1a"/><circle cx="179.91" cy="457.25" r="0.6" fill="#1a1a1a"/><circle cx="195.01" cy="457.25" r="0.6" fill="#1a1a1a"/><circle cx="184.8" cy="455.52" r="0.6" fill="#1a1a1a"/><circle cx="171.14" cy="457.91" r="0.6" fill="#1a1a1a"/><circle cx="188.49" cy="457.4" r="0.6" fill="#1a1a1a"/><circle cx="178.47" cy="456.62" r="0.6" fill="#1a1a1a"/><circle cx="195.89" cy="457.41" r="0.6" fill="#1a1a1a"/><circle cx="185.73" cy="455.58" r="0.6" fill="#1a1a1a"/><circle cx="181.07" cy="457.61" r="0.6" fill="#1a1a1a"/><path d="M168.5,453.22 L171.14,454.9 L173.77,453.22 L176.41,454.9 L179.05,453.22 L181.68,454.9 L184.32,453.22 L186.95,454.9 L189.59,453.22 L192.23,454.9 L194.86,453.22 L197.5,454.9" fill="none" stroke="#1a1a1a" stroke-width="1.1" stroke-linejoin="round"/><path d="M197.5,459.28 L194.86,457.6 L192.23,459.28 L189.59,457.6 L186.95,459.28 L184.32,457.6 L181.68,459.28 L179.05,457.6 L176.41,459.28 L173.77,457.6 L171.14,459.28 L168.5,457.6" fill="none" stroke="#1a1a1a" stroke-width="1.1" stroke-linejoin="round"/>
<rect x="168.5" y="556" width="29" height="5.5" fill="#fff" stroke="none"/><circle cx="179.67" cy="559.4" r="0.6" fill="#1a1a1a"/><circle cx="185.75" cy="560.14" r="0.6" fill="#1a1a1a"/><circle cx="191.3" cy="557.99" r="0.6" fill="#1a1a1a"/><circle cx="169.55" cy="557.92" r="0.6" fill="#1a1a1a"/><circle cx="180.91" cy="559.05" r="0.6" fill="#1a1a1a"/><circle cx="191.53" cy="560.11" r="0.6" fill="#1a1a1a"/><circle cx="170.64" cy="559.92" r="0.6" fill="#1a1a1a"/><circle cx="191.42" cy="560.04" r="0.6" fill="#1a1a1a"/><circle cx="184.94" cy="557.96" r="0.6" fill="#1a1a1a"/><circle cx="192.48" cy="559.82" r="0.6" fill="#1a1a1a"/><circle cx="187.99" cy="560.2" r="0.6" fill="#1a1a1a"/><circle cx="178.87" cy="557.3" r="0.6" fill="#1a1a1a"/><circle cx="184.45" cy="559.79" r="0.6" fill="#1a1a1a"/><circle cx="174.91" cy="559.63" r="0.6" fill="#1a1a1a"/><circle cx="194.66" cy="557.82" r="0.6" fill="#1a1a1a"/><path d="M168.5,555.72 L171.14,557.4 L173.77,555.72 L176.41,557.4 L179.05,555.72 L181.68,557.4 L184.32,555.72 L186.95,557.4 L189.59,555.72 L192.23,557.4 L194.86,555.72 L197.5,557.4" fill="none" stroke="#1a1a1a" stroke-width="1.1" stroke-linejoin="round"/><path d="M197.5,561.78 L194.86,560.1 L192.23,561.78 L189.59,560.1 L186.95,561.78 L184.32,560.1 L181.68,561.78 L179.05,560.1 L176.41,561.78 L173.77,560.1 L171.14,561.78 L168.5,560.1" fill="none" stroke="#1a1a1a" stroke-width="1.1" stroke-linejoin="round"/>
<rect x="135.5" y="493.5" width="4.5" height="29" fill="#fff" stroke="none"/><circle cx="138.02" cy="512.8" r="0.6" fill="#1a1a1a"/><circle cx="137.66" cy="500.08" r="0.6" fill="#1a1a1a"/><circle cx="137.14" cy="514.78" r="0.6" fill="#1a1a1a"/><circle cx="138.48" cy="506.91" r="0.6" fill="#1a1a1a"/><circle cx="136.72" cy="516.28" r="0.6" fill="#1a1a1a"/><circle cx="138.43" cy="500.79" r="0.6" fill="#1a1a1a"/><circle cx="137.95" cy="518.72" r="0.6" fill="#1a1a1a"/><circle cx="138.71" cy="508.59" r="0.6" fill="#1a1a1a"/><circle cx="137.69" cy="510.41" r="0.6" fill="#1a1a1a"/><circle cx="136.97" cy="499.69" r="0.6" fill="#1a1a1a"/><circle cx="136.95" cy="513.43" r="0.6" fill="#1a1a1a"/><circle cx="137.41" cy="509.74" r="0.6" fill="#1a1a1a"/><circle cx="137.51" cy="508.46" r="0.6" fill="#1a1a1a"/><path d="M135.22,522.5 L136.9,519.86 L135.22,517.23 L136.9,514.59 L135.22,511.95 L136.9,509.32 L135.22,506.68 L136.9,504.05 L135.22,501.41 L136.9,498.77 L135.22,496.14 L136.9,493.5" fill="none" stroke="#1a1a1a" stroke-width="1.1" stroke-linejoin="round"/><path d="M140.28,493.5 L138.6,496.14 L140.28,498.77 L138.6,501.41 L140.28,504.05 L138.6,506.68 L140.28,509.32 L138.6,511.95 L140.28,514.59 L138.6,517.23 L140.28,519.86 L138.6,522.5" fill="none" stroke="#1a1a1a" stroke-width="1.1" stroke-linejoin="round"/>
<rect x="224" y="493.5" width="5" height="29" fill="#fff" stroke="none"/><circle cx="225.45" cy="495.7" r="0.6" fill="#1a1a1a"/><circle cx="227.99" cy="504.6" r="0.6" fill="#1a1a1a"/><circle cx="225.32" cy="511.58" r="0.6" fill="#1a1a1a"/><circle cx="227.36" cy="498.72" r="0.6" fill="#1a1a1a"/><circle cx="226.79" cy="503.81" r="0.6" fill="#1a1a1a"/><circle cx="226.56" cy="495.06" r="0.6" fill="#1a1a1a"/><circle cx="225.1" cy="521.24" r="0.6" fill="#1a1a1a"/><circle cx="227.6" cy="507.63" r="0.6" fill="#1a1a1a"/><circle cx="226.7" cy="501.56" r="0.6" fill="#1a1a1a"/><circle cx="227.34" cy="506" r="0.6" fill="#1a1a1a"/><circle cx="227.84" cy="515.22" r="0.6" fill="#1a1a1a"/><circle cx="227.46" cy="520.51" r="0.6" fill="#1a1a1a"/><circle cx="225.76" cy="495.52" r="0.6" fill="#1a1a1a"/><circle cx="225.6" cy="499.38" r="0.6" fill="#1a1a1a"/><path d="M223.72,522.5 L225.4,519.86 L223.72,517.23 L225.4,514.59 L223.72,511.95 L225.4,509.32 L223.72,506.68 L225.4,504.05 L223.72,501.41 L225.4,498.77 L223.72,496.14 L225.4,493.5" fill="none" stroke="#1a1a1a" stroke-width="1.1" stroke-linejoin="round"/><path d="M229.28,493.5 L227.6,496.14 L229.28,498.77 L227.6,501.41 L229.28,504.05 L227.6,506.68 L229.28,509.32 L227.6,511.95 L229.28,514.59 L227.6,517.23 L229.28,519.86 L227.6,522.5" fill="none" stroke="#1a1a1a" stroke-width="1.1" stroke-linejoin="round"/>
<path d="M112,515.16 Q112.5,511.75 115.51,512.36 Q118.2,513.83 116.4,516.76 Q118.97,514.47 121.31,516.62 Q122,519.72 118.74,520.81 Q122.18,520.72 121.45,523.67 Q121.13,526.69 117.92,525.42 Q120.62,527.56 118.84,530.15 Q115.98,531.46 114.34,528.43 Q115.03,531.8 112,532.41 Q108.97,531.8 109.66,528.43 Q108.02,531.46 105.78,529.41 Q103.38,527.56 106.08,525.42 Q102.87,526.69 101.28,523.89 Q101.82,520.72 105.26,520.81 Q102,519.72 103.33,517 Q105.03,514.47 107.6,516.76 Q105.8,513.83 108.59,512.63 Q111.5,511.75 112,515.16Z" fill="#fff" stroke="#1a1a1a" stroke-width="1.2" stroke-linejoin="round"/><rect x="110" y="521" width="4" height="4" fill="#fff" stroke="#1a1a1a" stroke-width="1.2"/><circle cx="112" cy="517" r="0.9" fill="#1a1a1a"/>
<line x1="204" y1="548" x2="280" y2="624" stroke="#1a1a1a" stroke-width="1.2"/>
<line x1="222" y1="526" x2="302.5" y2="606.5" stroke="#1a1a1a" stroke-width="1.2"/>
<line x1="280" y1="624" x2="380" y2="724" stroke="#1a1a1a" stroke-width="2"/>
<line x1="302.5" y1="602.5" x2="400.5" y2="700.5" stroke="#1a1a1a" stroke-width="2"/>
<line x1="280" y1="624" x2="302.5" y2="602.5" stroke="#1a1a1a" stroke-width="1"/>
<line x1="380" y1="724" x2="400.5" y2="700.5" stroke="#1a1a1a" stroke-width="2"/>
<line x1="383" y1="720" x2="402" y2="701" stroke="#1a1a1a" stroke-width="0.7"/>
<path d="M214,558 Q230.37,554.36 234.01,537.99" fill="none" stroke="#1a1a1a" stroke-width="1"/>
<path d="M238,582 Q254.37,578.36 258.01,561.99" fill="none" stroke="#1a1a1a" stroke-width="1"/>
<path d="M257,601 Q273.37,597.36 277.01,580.99" fill="none" stroke="#1a1a1a" stroke-width="1"/>
<path d="M280,624 Q297.11,619.62 301.5,602.5" fill="none" stroke="#1a1a1a" stroke-width="1.9"/>
<path d="M296,640 Q299.68,622.18 317.5,618.5" fill="none" stroke="#1a1a1a" stroke-width="1"/>
<path d="M313,657 Q315.97,638.47 334.5,635.5" fill="none" stroke="#1a1a1a" stroke-width="1"/>
<path d="M336,680 Q339.68,662.18 357.5,658.5" fill="none" stroke="#1a1a1a" stroke-width="1"/>
<path d="M338.6,682.6 Q342.28,664.78 360.1,661.1" fill="none" stroke="#1a1a1a" stroke-width="1"/>
<path d="M341.2,685.2 Q344.88,667.38 362.7,663.7" fill="none" stroke="#1a1a1a" stroke-width="1"/>
<line x1="282" y1="622.5" x2="381" y2="721.5" stroke="#1a1a1a" stroke-width="0.8"/>
<line x1="301.5" y1="605.5" x2="399" y2="703" stroke="#1a1a1a" stroke-width="0.8"/>
<path d="M351,675 Q364,668 377,681" fill="none" stroke="#1a1a1a" stroke-width="1"/>
<path d="M351,675 Q352,690 359,700" fill="none" stroke="#1a1a1a" stroke-width="1"/>
<line x1="354" y1="684" x2="366" y2="673" stroke="#1a1a1a" stroke-width="0.9"/>
<line x1="470" y1="449" x2="548" y2="527" stroke="#1a1a1a" stroke-width="1.2"/>
<line x1="488" y1="426.5" x2="590" y2="528.5" stroke="#1a1a1a" stroke-width="1.2"/>
<line x1="548" y1="527" x2="585" y2="565.5" stroke="#1a1a1a" stroke-width="1.2"/>
<line x1="590" y1="528.5" x2="606" y2="543" stroke="#1a1a1a" stroke-width="1.2"/>
<line x1="585" y1="565.5" x2="645" y2="625" stroke="#1a1a1a" stroke-width="2"/>
<line x1="606" y1="543" x2="667.5" y2="603" stroke="#1a1a1a" stroke-width="2"/>
<line x1="645" y1="625" x2="667.5" y2="603" stroke="#1a1a1a" stroke-width="2"/>
<line x1="647" y1="621" x2="665" y2="603.5" stroke="#1a1a1a" stroke-width="0.7"/>
<path d="M481,460 Q494.65,453.42 501.22,439.78" fill="none" stroke="#1a1a1a" stroke-width="1"/>
<line x1="480" y1="435" x2="492" y2="450" stroke="#1a1a1a" stroke-width="1"/>
<path d="M546,525 Q559.65,518.42 566.22,504.78" fill="none" stroke="#1a1a1a" stroke-width="1.9"/>
<path d="M549,528 Q562.65,521.42 569.22,507.78" fill="none" stroke="#1a1a1a" stroke-width="0.9"/>
<path d="M570,549 Q586.48,545.25 590.22,528.78" fill="none" stroke="#1a1a1a" stroke-width="1"/>
<path d="M577.5,556.5 Q593.98,552.75 597.72,536.28" fill="none" stroke="#1a1a1a" stroke-width="1"/>
<path d="M584,563 Q601.15,558.58 605.57,541.43" fill="none" stroke="#1a1a1a" stroke-width="1.9"/>
<path d="M587,566 Q604.15,561.58 608.57,544.43" fill="none" stroke="#1a1a1a" stroke-width="1"/>
<path d="M586,566 Q593,578 602,583" fill="none" stroke="#1a1a1a" stroke-width="0.9"/>
<path d="M607,544 Q612,556 624,561" fill="none" stroke="#1a1a1a" stroke-width="0.9"/>
<path d="M516.22,434.84 A37,37 0 1,1 516.22,493.16 Q508,492 497,470 Q505,440 516.22,434.84 Z" fill="#fff" stroke="#1a1a1a" stroke-width="1.2"/>
<path d="M531.5,456.21 Q518.69,441.92 530.8,427.92" fill="none" stroke="#1a1a1a" stroke-width="1"/>
<path d="M533.22,455.44 Q523.73,438.18 538.48,427" fill="none" stroke="#1a1a1a" stroke-width="1"/>
<path d="M535.06,455.05 Q529.43,435.57 546.18,427.7" fill="none" stroke="#1a1a1a" stroke-width="1"/>
<path d="M537.25,455.09 Q536.59,434.1 554.75,430.52" fill="none" stroke="#1a1a1a" stroke-width="1"/>
<path d="M539.66,455.78 Q544.93,434.59 563.37,436.16" fill="none" stroke="#1a1a1a" stroke-width="1"/>
<path d="M541.79,457.11 Q552.8,437.36 570.1,443.95" fill="none" stroke="#1a1a1a" stroke-width="1"/>
<path d="M543.46,458.97 Q559.61,442.2 574.42,453.3" fill="none" stroke="#1a1a1a" stroke-width="1"/>
<path d="M544.56,461.22 Q564.82,448.73 576,463.48" fill="none" stroke="#1a1a1a" stroke-width="1"/>
<path d="M544.99,463.69 Q568.03,456.44 574.71,473.69" fill="none" stroke="#1a1a1a" stroke-width="1"/>
<path d="M544.73,466.18 Q568.99,464.73 570.65,483.16" fill="none" stroke="#1a1a1a" stroke-width="1"/>
<path d="M543.79,468.5 Q567.63,472.97 564.14,491.14" fill="none" stroke="#1a1a1a" stroke-width="1"/>
<path d="M542.25,470.47 Q564.05,480.51 555.69,497.02" fill="none" stroke="#1a1a1a" stroke-width="1"/>
<path d="M540.23,471.95 Q558.53,486.78 545.94,500.34" fill="none" stroke="#1a1a1a" stroke-width="1"/>
<path d="M537.87,472.8 Q551.49,491.28 535.65,500.85" fill="none" stroke="#1a1a1a" stroke-width="1"/>
<path d="M535.37,472.98 Q543.49,493.66 525.63,498.5" fill="none" stroke="#1a1a1a" stroke-width="1"/>
<path d="M533.22,472.56 Q536.18,493.87 517.68,494.24" fill="none" stroke="#1a1a1a" stroke-width="1"/>
<path d="M531.23,471.63 Q529.04,492.3 511,488.18" fill="none" stroke="#1a1a1a" stroke-width="1"/>
<path d="M529.11,469.79 Q520.78,487.83 504.89,478.34" fill="none" stroke="#1a1a1a" stroke-width="1"/>
<path d="M527.54,467.08 Q513.73,480.17 502.04,465.81" fill="none" stroke="#1a1a1a" stroke-width="1"/>
<path d="M535.06,455.05 Q529.43,435.57 546.18,427.7" fill="none" stroke="#1a1a1a" stroke-width="2"/>
<path d="M537.46,455.05 Q530.76,431.01 548.18,427.7" fill="none" stroke="#1a1a1a" stroke-width="1"/>
<path d="M535.37,472.98 Q543.49,493.66 525.63,498.5" fill="none" stroke="#1a1a1a" stroke-width="2"/>
<path d="M537.77,472.98 Q541.38,497.92 527.63,498.5" fill="none" stroke="#1a1a1a" stroke-width="1"/>
<circle cx="536" cy="464" r="8" fill="#fff" stroke="#1a1a1a" stroke-width="1.5"/>
<path d="M536,464 l-5,-5 m5,5 l5,-5 m-5,5 l-5,5 m5,-5 l5,5" stroke="#1a1a1a" stroke-width="1"/>
<circle cx="536" cy="464" r="2.6" fill="#fff" stroke="#1a1a1a" stroke-width="1"/>
<line x1="491" y1="461.75" x2="530" y2="461.75" stroke="#1a1a1a" stroke-width="1"/>
<line x1="500" y1="485" x2="540.5" y2="485" stroke="#1a1a1a" stroke-width="1"/>
</g>
<g stroke="#1a1a1a" stroke-width="1.3" fill="none">
<line x1="25" y1="40" x2="705" y2="40" marker-start="url(#ah)" marker-end="url(#ah)"/>
<line x1="108" y1="84" x2="668" y2="84" marker-start="url(#ah)" marker-end="url(#ah)"/>
<line x1="745" y1="167" x2="745" y2="720.5" marker-start="url(#ah)" marker-end="url(#ah)"/>
<line x1="785" y1="109" x2="785" y2="787.5" marker-start="url(#ah)" marker-end="url(#ah)"/>
<line x1="134" y1="112" x2="134" y2="160" marker-start="url(#ah)" marker-end="url(#ah)"/>
<line x1="26" y1="478.5" x2="111" y2="478.5" marker-start="url(#ah)" marker-end="url(#ah)"/>
</g>
<g stroke="#1a1a1a" stroke-width="1.4" fill="none">
<line x1="375" y1="173.5" x2="352.5" y2="225" marker-end="url(#ah)"/>
<line x1="387.5" y1="175" x2="418.75" y2="215" marker-end="url(#ah)"/>
<line x1="68" y1="262.5" x2="111" y2="222" marker-end="url(#ah)"/>
<line x1="114" y1="350" x2="176" y2="335.5" marker-end="url(#ah)"/>
<line x1="600" y1="340" x2="574" y2="360" marker-end="url(#ah)"/>
<line x1="86" y1="619" x2="102" y2="587" marker-end="url(#ah)"/>
<line x1="175" y1="634" x2="192" y2="603" marker-end="url(#ah)"/>
<line x1="517.5" y1="701" x2="417.5" y2="686" marker-end="url(#ah)"/>
<line x1="544" y1="699" x2="623" y2="620" marker-end="url(#ah)"/>
<line x1="646.5" y1="578" x2="667.5" y2="556.75" marker-start="url(#ah)" marker-end="url(#ah)"/>
<line x1="672.75" y1="607.5" x2="693" y2="629.4" marker-start="url(#ah)" marker-end="url(#ah)"/>
<line x1="382.5" y1="682.5" x2="406" y2="660" marker-start="url(#ah)" marker-end="url(#ah)"/>
<line x1="386" y1="730" x2="434" y2="775" marker-start="url(#ah)" marker-end="url(#ah)"/>
</g>
<g><text x="342" y="32.5" font-size="18" textLength="46" lengthAdjust="spacingAndGlyphs">1834</text>
<text x="366" y="79" font-size="18" textLength="46" lengthAdjust="spacingAndGlyphs">1530</text>
<text transform="translate(739,464) rotate(-90)" font-size="18" textLength="45" lengthAdjust="spacingAndGlyphs">1520</text>
<text transform="translate(779,469) rotate(-90)" font-size="18" textLength="45" lengthAdjust="spacingAndGlyphs">1838</text>
<text x="557" y="130" font-size="18" textLength="141" lengthAdjust="spacingAndGlyphs">HIC 100 - 42,0 m²</text>
<text x="557" y="151" font-size="18" textLength="141" lengthAdjust="spacingAndGlyphs">HIC 120 - 13,6 m²</text>
<text x="557" y="172" font-size="18" textLength="131" lengthAdjust="spacingAndGlyphs">HIC 150 - 2,8 m²</text>
<text x="557" y="193" font-size="18" textLength="141" lengthAdjust="spacingAndGlyphs">HIC 180 - 24,1 m²</text>
<text x="556" y="213" font-size="18" textLength="141" lengthAdjust="spacingAndGlyphs">HIC 210 - 24,2 m²</text>
<text x="556" y="234" font-size="18" textLength="141" lengthAdjust="spacingAndGlyphs">HIC 240 - 22,1 m²</text>
<text x="557" y="255" font-size="18" textLength="141" lengthAdjust="spacingAndGlyphs">HIC 270 - 45,5 m²</text>
<text transform="translate(138,119.5) rotate(90)" font-size="19" textLength="34" lengthAdjust="spacingAndGlyphs">150</text>
<text x="356.5" y="162.5" font-size="18" textLength="65" lengthAdjust="spacingAndGlyphs">HIC 100</text>
<text x="248" y="198.5" font-size="18" textLength="64" lengthAdjust="spacingAndGlyphs">HIC 240</text>
<text x="29.5" y="282.5" font-size="18" textLength="65" lengthAdjust="spacingAndGlyphs">HIC 150</text>
<text x="45" y="353" font-size="18" textLength="65" lengthAdjust="spacingAndGlyphs">HIC 210</text>
<text x="346.5" y="350" font-size="18" textLength="65" lengthAdjust="spacingAndGlyphs">HIC 210</text>
<text x="576.5" y="334" font-size="18" textLength="65" lengthAdjust="spacingAndGlyphs">HIC 180</text>
<text x="596" y="389" font-size="18" textLength="65" lengthAdjust="spacingAndGlyphs">HIC 100</text>
<text x="93" y="431" font-size="18" textLength="65" lengthAdjust="spacingAndGlyphs">HIC 270</text>
<text x="49" y="472.5" font-size="18" textLength="36" lengthAdjust="spacingAndGlyphs">230</text>
<text x="230" y="537.5" font-size="18" textLength="65" lengthAdjust="spacingAndGlyphs">HIC 180</text>
<text x="335" y="532.5" font-size="18" textLength="64" lengthAdjust="spacingAndGlyphs">HIC 270</text>
<text x="451.5" y="565" font-size="18" textLength="65" lengthAdjust="spacingAndGlyphs">HIC 120</text>
<text x="45" y="634" font-size="18" textLength="65" lengthAdjust="spacingAndGlyphs">HIC 150</text>
<text x="138.5" y="655" font-size="18" textLength="65" lengthAdjust="spacingAndGlyphs">HIC 120</text>
<text x="43.5" y="775" font-size="18" textLength="82" lengthAdjust="spacingAndGlyphs">174,3 m²</text>
<text x="501.5" y="721" font-size="18" textLength="65" lengthAdjust="spacingAndGlyphs">HIC 100</text>
<text x="244.5" y="294.4" font-size="21" textLength="76.5" lengthAdjust="spacingAndGlyphs">HIC &lt;60</text>
<text x="246" y="321.3" font-size="21" textLength="72.5" lengthAdjust="spacingAndGlyphs">46,5 m²</text>
<text transform="translate(646.5,559) rotate(-45)" font-size="20" text-anchor="middle" textLength="35" lengthAdjust="spacingAndGlyphs" dominant-baseline="central">100</text>
<text transform="translate(689.5,606) rotate(45)" font-size="20" text-anchor="middle" textLength="35" lengthAdjust="spacingAndGlyphs" dominant-baseline="central">100</text>
<text transform="translate(383,662) rotate(-45)" font-size="20" text-anchor="middle" textLength="35" lengthAdjust="spacingAndGlyphs" dominant-baseline="central">100</text>
<text transform="translate(421.5,738) rotate(45)" font-size="20" text-anchor="middle" textLength="36" lengthAdjust="spacingAndGlyphs" dominant-baseline="central">200</text>
<rect x="9.5" y="754.5" width="25" height="24.5" rx="1.5" fill="none" stroke="#1a1a1a" stroke-width="1.5" stroke-dasharray="4.5,3"/>
<rect x="14.3" y="759.7" width="15.6" height="15.3" rx="1.5" fill="#fff" stroke="#1a1a1a" stroke-width="1.6"/>
<path d="M14.5,764 L25.5,775 M14.5,768.5 L21,775 M15,760 L29.8,774.8 M19.5,760 L29.8,770.3 M24,760 L29.8,765.8" stroke="#1a1a1a" stroke-width="1.3"/></g>
</svg></body></html>
